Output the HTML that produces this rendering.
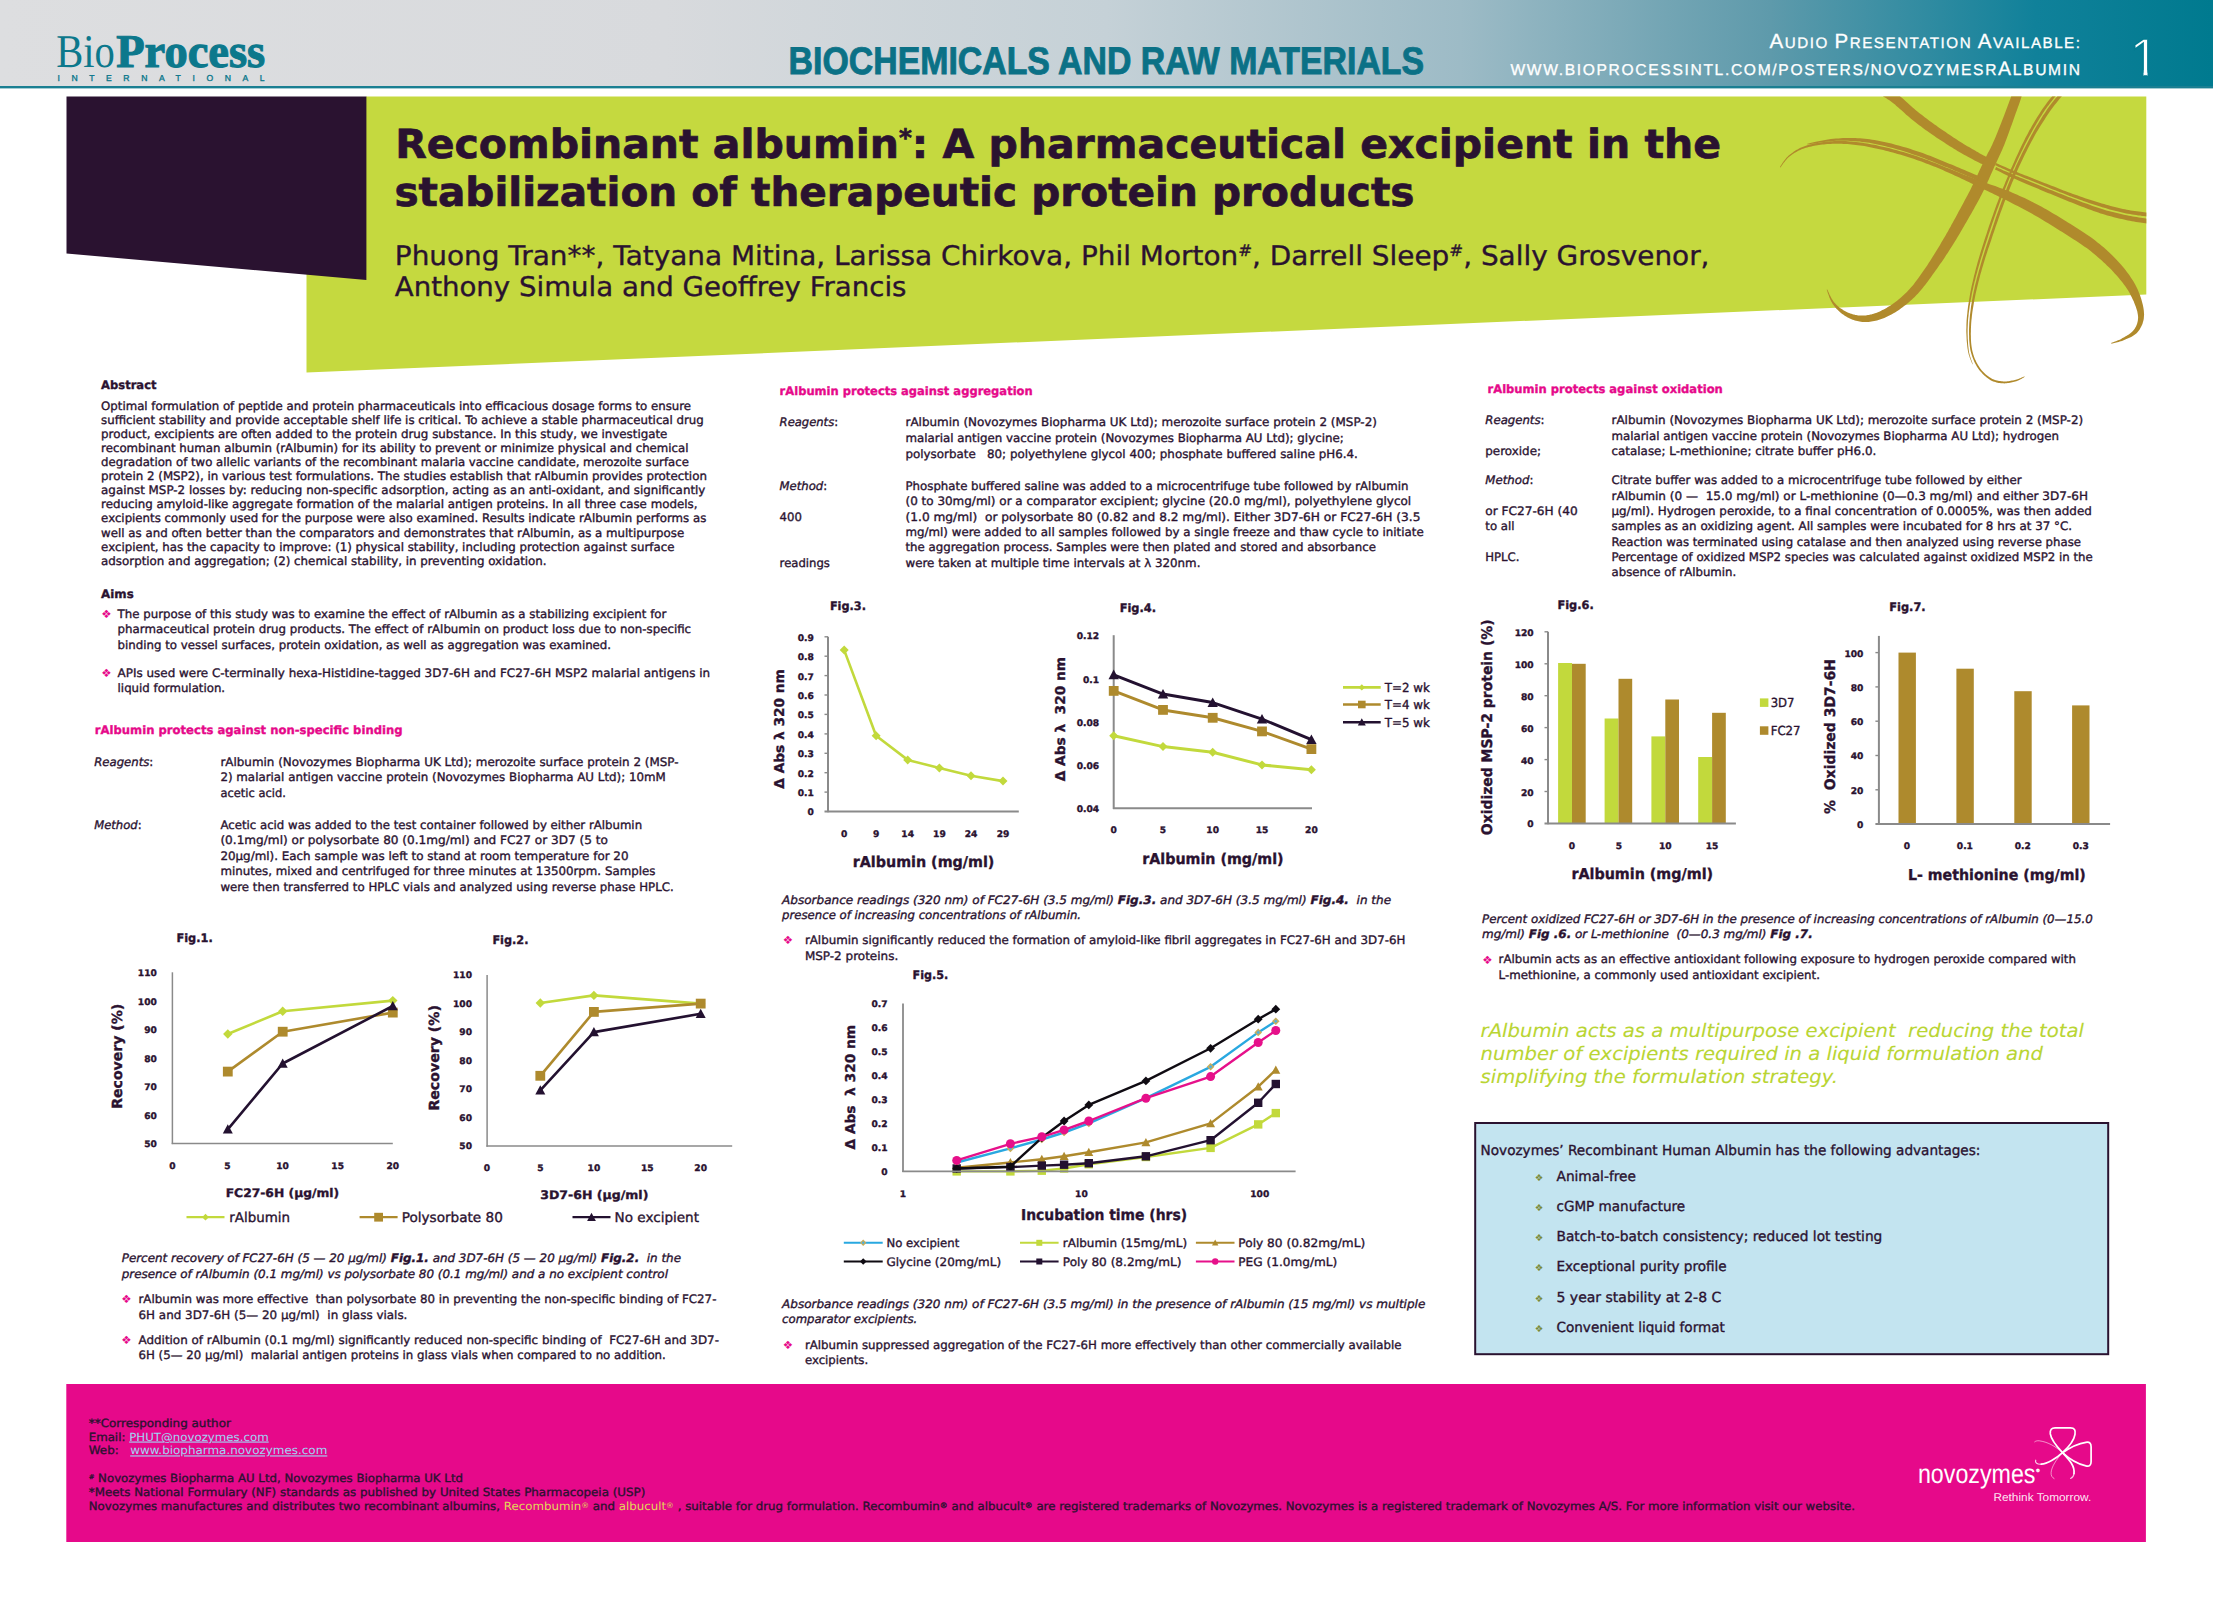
<!DOCTYPE html>
<html lang="en"><head><meta charset="utf-8"><title>Recombinant albumin poster</title>
<style>html,body{margin:0;padding:0;background:#fff}svg{display:block}text{white-space:pre;stroke:#2a1230;stroke-width:.35px}</style></head><body>
<svg width="2213" height="1622" viewBox="0 0 2213 1622" font-family='"DejaVu Sans", "Liberation Sans", sans-serif' font-size="11.7" fill="#2a1230" text-rendering="geometricPrecision">
<rect width="2213" height="1622" fill="#fff"/>
<defs><linearGradient id="hg" x1="0" y1="0" x2="2213" y2="0" gradientUnits="userSpaceOnUse"><stop offset="0" stop-color="#dddee0"/><stop offset="0.30" stop-color="#d8dadd"/><stop offset="0.50" stop-color="#c5d1d7"/><stop offset="0.66" stop-color="#9dbbc6"/><stop offset="0.80" stop-color="#5e9aab"/><stop offset="0.92" stop-color="#10819a"/><stop offset="1" stop-color="#007a8f"/></linearGradient></defs>
<rect x="0" y="0" width="2213" height="87" fill="url(#hg)"/>
<rect x="0" y="86" width="2213" height="2.4" fill="#1a7f92"/>
<text x="56.3" y="67.2" font-family='"Liberation Serif", serif' font-size="47" fill="#0c788c" style="stroke:none" textLength="58.6" lengthAdjust="spacingAndGlyphs">Bio</text>
<text x="116.2" y="67.2" font-family='"Liberation Serif", serif' font-size="47" font-weight="bold" fill="#0c788c" style="stroke:#0c788c;stroke-width:1.1px" textLength="149" lengthAdjust="spacingAndGlyphs">Process</text>
<text x="57.5" y="80.9" font-family='"Liberation Sans", sans-serif' font-size="8.6" fill="#0c788c" style="stroke:#0c788c;stroke-width:.35px" textLength="207" lengthAdjust="spacing">INTERNATIONAL</text>
<text x="788.6" y="74.1" font-size="38.50" font-weight="bold" fill="#0b7186" style="stroke:#0b7186;stroke-width:0.9px" font-family='"Liberation Sans", sans-serif' textLength="635.5" lengthAdjust="spacingAndGlyphs">BIOCHEMICALS AND RAW MATERIALS</text>
<text x="1769.6" y="47.6" font-family='"Liberation Sans", sans-serif' fill="#fff" style="stroke:#fff;stroke-width:.3px" textLength="310.4" lengthAdjust="spacing"><tspan font-size="20.5">A</tspan><tspan font-size="15.2">UDIO </tspan><tspan font-size="20.5">P</tspan><tspan font-size="15.2">RESENTATION </tspan><tspan font-size="20.5">A</tspan><tspan font-size="15.2">VAILABLE:</tspan></text>
<text x="1510.4" y="74.9" font-family='"Liberation Sans", sans-serif' fill="#fff" style="stroke:#fff;stroke-width:.3px" textLength="569.6" lengthAdjust="spacing"><tspan font-size="15.6">WWW.BIOPROCESSINTL.COM/POSTERS/NOVOZYMESR</tspan><tspan font-size="19.5">A</tspan><tspan font-size="15.6">LBUMIN</tspan></text>
<clipPath id="onec"><rect x="2130" y="30" width="17.9" height="40.5"/><rect x="2143.5" y="30" width="4.0" height="50"/></clipPath>
<text x="2129.6" y="75.6" clip-path="url(#onec)" font-family='"Liberation Sans", sans-serif' font-size="54" fill="#fff" style="stroke:#037b90;stroke-width:1.6px">1</text>
<path d="M366 96.6H2146.3V294.6L306.5 372.5V262H366Z" fill="#c5d93f"/>
<path d="M66.5 96.6H366.4V280L66.5 253.5Z" fill="#2a1230"/>
<text x="395.2" y="157.9" font-size="40.00" font-weight="bold" fill="#2a1230" style="stroke:#2a1230;stroke-width:0.7px" textLength="1325.8" lengthAdjust="spacingAndGlyphs">Recombinant albumin<tspan font-size="24" dy="-12">*</tspan><tspan dy="12">: A pharmaceutical excipient in the</tspan></text>
<text x="394.4" y="205.6" font-size="40.00" font-weight="bold" fill="#2a1230" style="stroke:#2a1230;stroke-width:0.7px" textLength="1020.1" lengthAdjust="spacingAndGlyphs">stabilization of therapeutic protein products</text>
<text x="394.8" y="265.1" font-size="27.00" fill="#2a1230" style="stroke:#2a1230" textLength="1314.7" lengthAdjust="spacingAndGlyphs">Phuong Tran**, Tatyana Mitina, Larissa Chirkova, Phil Morton<tspan font-size="16" dy="-9">#</tspan><tspan dy="9">, Darrell Sleep</tspan><tspan font-size="16" dy="-9">#</tspan><tspan dy="9">, Sally Grosvenor,</tspan></text>
<text x="394.8" y="296.1" font-size="27.00" fill="#2a1230" style="stroke:#2a1230" textLength="511.7" lengthAdjust="spacingAndGlyphs">Anthony Simula and Geoffrey Francis</text>
<clipPath id="swc"><rect x="1700" y="96.6" width="446.3" height="320"/></clipPath>
<g clip-path="url(#swc)">
<path d="M1879.3 94.1L1880.0 94.5L1880.8 95.0L1881.7 95.5L1882.7 96.1L1883.7 96.7L1884.9 97.4L1886.0 98.1L1887.2 98.9L1888.5 99.7L1889.8 100.5L1891.0 101.5L1892.3 102.4L1893.6 103.4L1895.0 104.6L1896.4 105.9L1898.0 107.2L1899.6 108.7L1901.2 110.1L1902.9 111.6L1904.5 113.1L1906.2 114.7L1907.9 116.1L1909.6 117.6L1911.3 119.0L1912.9 120.3L1914.5 121.5L1916.1 122.8L1917.6 124.0L1919.2 125.2L1920.8 126.3L1922.3 127.5L1923.9 128.7L1925.6 129.9L1927.2 131.1L1928.9 132.3L1930.7 133.5L1932.5 134.8L1934.4 136.0L1936.3 137.4L1938.3 138.7L1940.3 140.0L1942.3 141.3L1944.3 142.6L1946.3 143.9L1948.3 145.2L1950.2 146.4L1952.1 147.6L1953.9 148.7L1955.7 149.8L1957.5 150.9L1959.3 151.9L1961.1 153.0L1962.8 153.9L1964.5 154.9L1966.2 155.8L1967.8 156.7L1969.3 157.5L1970.7 158.3L1972.1 159.0L1973.4 159.7L1974.6 160.4L1975.7 161.0L1976.8 161.6L1977.9 162.1L1978.8 162.5L1979.7 163.0L1980.6 163.4L1981.3 163.7L1982.0 164.0L1982.6 164.3L1983.1 164.6L1983.6 164.8L1987.3 157.4L1986.8 157.2L1986.3 156.9L1985.7 156.6L1985.1 156.2L1984.3 155.8L1983.6 155.4L1982.7 155.0L1981.8 154.5L1980.9 154.0L1979.8 153.4L1978.8 152.8L1977.6 152.1L1976.4 151.4L1975.0 150.6L1973.6 149.8L1972.1 149.0L1970.6 148.1L1969.0 147.1L1967.3 146.2L1965.7 145.2L1964.0 144.2L1962.2 143.1L1960.5 142.0L1958.8 141.0L1957.1 139.8L1955.2 138.6L1953.4 137.4L1951.4 136.1L1949.5 134.8L1947.5 133.5L1945.6 132.1L1943.6 130.8L1941.7 129.5L1939.8 128.2L1938.0 126.9L1936.2 125.6L1934.5 124.4L1932.9 123.2L1931.2 122.0L1929.6 120.9L1928.1 119.7L1926.5 118.6L1925.0 117.5L1923.5 116.3L1922.0 115.1L1920.5 114.0L1918.9 112.7L1917.4 111.5L1915.8 110.2L1914.2 108.8L1912.6 107.4L1911.0 106.0L1909.3 104.5L1907.7 103.0L1906.0 101.5L1904.4 100.0L1902.8 98.6L1901.2 97.3L1899.7 96.0L1898.2 94.8L1896.7 93.7L1895.3 92.7L1893.8 91.7L1892.5 90.8L1891.1 89.9L1889.8 89.1L1888.6 88.4L1887.5 87.8L1886.6 87.2L1885.7 86.7L1885.0 86.3L1884.4 85.9Z" fill="#b08a2c"/>
<path d="M1995.1 165.2L1996.2 165.6L1997.4 166.2L1998.9 166.9L2000.5 167.6L2002.3 168.4L2004.3 169.3L2006.3 170.2L2008.4 171.2L2010.6 172.1L2012.7 173.1L2014.9 174.0L2017.0 174.9L2019.2 175.8L2021.4 176.7L2023.7 177.7L2026.1 178.7L2028.5 179.6L2030.9 180.6L2033.4 181.6L2035.9 182.6L2038.4 183.6L2040.8 184.6L2043.3 185.5L2045.7 186.5L2048.1 187.4L2050.4 188.4L2052.8 189.4L2055.2 190.3L2057.6 191.3L2060.0 192.2L2062.4 193.1L2064.8 194.1L2067.2 195.0L2069.6 195.9L2071.9 196.8L2074.3 197.7L2076.7 198.6L2079.2 199.4L2081.6 200.3L2084.0 201.2L2086.5 202.1L2088.9 202.9L2091.3 203.7L2093.7 204.5L2096.1 205.3L2098.5 206.1L2100.8 206.8L2103.0 207.5L2105.3 208.1L2107.5 208.8L2109.6 209.4L2111.8 210.0L2113.9 210.5L2116.0 211.0L2118.1 211.6L2120.1 212.0L2122.1 212.5L2124.1 212.9L2126.1 213.4L2128.0 213.8L2130.0 214.1L2132.0 214.5L2134.1 214.8L2136.2 215.1L2138.2 215.4L2140.2 215.6L2142.1 215.9L2143.9 216.1L2145.5 216.3L2146.9 216.5L2148.1 216.6L2149.1 216.7L2149.6 212.8L2148.6 212.7L2147.4 212.6L2145.9 212.4L2144.3 212.2L2142.5 212.0L2140.7 211.8L2138.7 211.6L2136.7 211.3L2134.7 211.1L2132.6 210.8L2130.6 210.4L2128.7 210.1L2126.8 209.7L2124.9 209.3L2122.9 208.9L2120.9 208.5L2118.9 208.0L2116.9 207.5L2114.8 207.0L2112.7 206.5L2110.6 205.9L2108.4 205.3L2106.2 204.7L2104.0 204.1L2101.8 203.5L2099.5 202.8L2097.1 202.1L2094.8 201.3L2092.4 200.6L2090.0 199.8L2087.5 199.0L2085.1 198.2L2082.6 197.3L2080.2 196.5L2077.8 195.6L2075.4 194.8L2073.0 193.9L2070.6 193.1L2068.2 192.2L2065.8 191.3L2063.5 190.4L2061.1 189.5L2058.7 188.5L2056.3 187.6L2053.9 186.6L2051.5 185.7L2049.1 184.8L2046.7 183.8L2044.3 182.9L2041.9 181.9L2039.4 181.0L2036.9 180.0L2034.4 179.0L2032.0 178.1L2029.5 177.1L2027.1 176.1L2024.7 175.2L2022.4 174.3L2020.2 173.4L2018.0 172.5L2015.9 171.6L2013.7 170.7L2011.6 169.8L2009.4 168.9L2007.3 168.0L2005.2 167.1L2003.3 166.3L2001.5 165.5L1999.8 164.8L1998.3 164.1L1997.0 163.6L1996.0 163.1Z" fill="#b08a2c"/>
<path d="M1995.0 169.5L1996.0 170.0L1997.3 170.6L1998.8 171.3L2000.4 172.1L2002.2 173.0L2004.1 173.9L2006.2 174.9L2008.3 175.9L2010.4 176.9L2012.6 177.9L2014.7 178.8L2016.9 179.8L2019.0 180.7L2021.3 181.7L2023.6 182.7L2025.9 183.7L2028.3 184.7L2030.8 185.7L2033.2 186.8L2035.7 187.8L2038.2 188.8L2040.7 189.9L2043.1 190.9L2045.5 191.9L2047.9 192.9L2050.3 193.8L2052.6 194.8L2055.0 195.8L2057.4 196.8L2059.8 197.8L2062.2 198.8L2064.6 199.7L2067.0 200.7L2069.3 201.7L2071.7 202.6L2074.1 203.6L2076.5 204.5L2078.9 205.4L2081.4 206.4L2083.8 207.3L2086.2 208.2L2088.7 209.2L2091.1 210.1L2093.5 210.9L2095.9 211.8L2098.2 212.6L2100.6 213.4L2102.8 214.1L2105.1 214.8L2107.3 215.5L2109.5 216.1L2111.6 216.6L2113.8 217.2L2115.9 217.7L2117.9 218.2L2120.0 218.7L2122.0 219.1L2124.0 219.6L2125.9 220.0L2127.9 220.4L2129.9 220.8L2131.9 221.2L2134.0 221.6L2136.0 221.9L2138.1 222.2L2140.1 222.5L2142.0 222.8L2143.7 223.1L2145.3 223.3L2146.8 223.5L2148.0 223.7L2149.0 223.9L2149.8 219.1L2148.8 218.9L2147.5 218.7L2146.1 218.5L2144.4 218.3L2142.7 218.0L2140.8 217.7L2138.8 217.4L2136.8 217.1L2134.8 216.8L2132.8 216.4L2130.8 216.0L2128.9 215.7L2126.9 215.3L2125.0 214.9L2123.0 214.4L2121.0 214.0L2119.0 213.6L2117.0 213.1L2114.9 212.6L2112.8 212.1L2110.7 211.5L2108.6 211.0L2106.4 210.4L2104.2 209.7L2102.0 209.0L2099.7 208.3L2097.4 207.5L2095.0 206.7L2092.6 205.9L2090.2 205.0L2087.8 204.1L2085.3 203.3L2082.9 202.4L2080.4 201.4L2078.0 200.5L2075.6 199.6L2073.2 198.8L2070.8 197.8L2068.4 196.9L2066.1 196.0L2063.7 195.1L2061.3 194.1L2058.9 193.2L2056.5 192.2L2054.1 191.3L2051.7 190.3L2049.3 189.4L2046.9 188.4L2044.5 187.4L2042.0 186.5L2039.6 185.5L2037.1 184.5L2034.6 183.5L2032.1 182.5L2029.7 181.5L2027.3 180.5L2024.9 179.5L2022.6 178.6L2020.3 177.7L2018.2 176.8L2016.0 175.9L2013.9 174.9L2011.7 174.0L2009.5 173.1L2007.4 172.1L2005.4 171.2L2003.4 170.4L2001.6 169.6L1999.9 168.8L1998.4 168.2L1997.2 167.6L1996.1 167.1Z" fill="#b08a2c"/>
<path d="M2013.1 88.9L2013.0 89.3L2012.9 89.8L2012.8 90.2L2012.7 90.6L2012.7 91.0L2012.6 91.5L2012.5 92.0L2012.3 92.6L2012.1 93.3L2011.9 94.1L2011.6 95.0L2011.3 96.1L2010.9 97.3L2010.4 98.7L2009.8 100.2L2009.2 101.8L2008.6 103.5L2007.9 105.3L2007.2 107.2L2006.5 109.1L2005.8 111.1L2005.0 113.0L2004.3 114.9L2003.5 116.9L2002.8 118.8L2002.0 120.8L2001.2 122.9L2000.4 125.0L1999.6 127.1L1998.7 129.2L1997.9 131.3L1997.0 133.4L1996.2 135.5L1995.4 137.5L1994.5 139.5L1993.7 141.3L1992.9 143.1L1992.1 144.9L1991.3 146.6L1990.5 148.2L1989.6 149.9L1988.8 151.5L1987.9 153.1L1987.1 154.8L1986.2 156.5L1985.3 158.3L1984.4 160.1L1983.5 162.0L1982.6 164.0L1981.6 166.0L1980.7 168.0L1979.7 170.1L1978.8 172.1L1977.8 174.2L1976.9 176.3L1975.9 178.4L1974.9 180.5L1973.9 182.6L1972.9 184.6L1971.9 186.6L1970.9 188.7L1969.9 190.7L1968.8 192.7L1967.8 194.7L1966.7 196.7L1965.6 198.8L1964.5 200.8L1963.4 202.9L1962.3 205.0L1961.2 207.1L1960.0 209.2L1958.8 211.3L1957.7 213.5L1956.5 215.7L1955.3 217.9L1954.1 220.1L1952.8 222.4L1951.6 224.6L1950.4 226.9L1949.1 229.1L1947.9 231.4L1946.6 233.6L1945.3 235.9L1944.0 238.1L1942.7 240.3L1941.3 242.6L1940.0 244.9L1938.6 247.2L1937.2 249.5L1935.8 251.7L1934.4 254.0L1933.0 256.3L1931.6 258.5L1930.2 260.7L1928.8 262.8L1927.5 264.9L1926.1 267.0L1924.7 269.1L1923.3 271.1L1921.9 273.1L1920.5 275.1L1919.1 277.1L1917.7 279.0L1916.3 280.8L1915.0 282.6L1913.6 284.4L1912.3 286.0L1910.9 287.6L1909.6 289.1L1908.2 290.5L1906.9 291.9L1905.5 293.3L1904.2 294.6L1902.8 295.8L1901.5 297.0L1900.1 298.2L1898.8 299.3L1897.4 300.4L1896.1 301.5L1894.7 302.5L1893.3 303.5L1892.0 304.5L1890.6 305.4L1889.2 306.3L1887.8 307.1L1886.5 307.9L1885.1 308.7L1883.8 309.4L1882.4 310.1L1881.1 310.8L1879.8 311.4L1878.5 311.9L1877.3 312.4L1876.1 312.9L1874.9 313.3L1873.7 313.7L1872.5 314.1L1871.3 314.4L1870.2 314.6L1869.0 314.9L1867.9 315.1L1866.8 315.2L1865.7 315.4L1864.6 315.5L1863.5 315.6L1862.4 315.6L1861.4 315.6L1860.3 315.6L1859.3 315.5L1858.2 315.4L1857.2 315.2L1856.2 315.1L1855.2 314.9L1854.1 314.6L1853.1 314.4L1852.1 314.1L1851.2 313.8L1850.2 313.5L1849.2 313.1L1848.2 312.7L1847.2 312.2L1846.2 311.7L1845.3 311.2L1844.3 310.7L1843.4 310.2L1842.5 309.6L1841.7 309.1L1840.8 308.5L1840.0 307.9L1839.3 307.4L1838.6 306.8L1837.9 306.2L1837.2 305.5L1836.6 304.9L1835.9 304.3L1835.3 303.6L1834.7 302.9L1834.1 302.2L1833.5 301.4L1833.0 300.7L1832.4 299.8L1831.9 298.9L1831.3 297.9L1830.7 296.8L1830.2 295.8L1829.6 294.7L1829.1 293.6L1828.7 292.6L1828.3 291.7L1827.9 290.8L1827.5 290.1L1827.3 289.6L1826.7 289.8L1827.0 290.4L1827.2 291.1L1827.5 292.0L1827.8 292.9L1828.2 294.0L1828.6 295.1L1829.0 296.3L1829.4 297.4L1829.9 298.6L1830.4 299.7L1830.9 300.7L1831.4 301.7L1831.9 302.5L1832.4 303.4L1832.9 304.2L1833.5 305.0L1834.0 305.8L1834.6 306.6L1835.3 307.4L1835.9 308.1L1836.6 308.9L1837.3 309.6L1838.0 310.3L1838.8 311.0L1839.6 311.7L1840.4 312.5L1841.3 313.2L1842.2 313.9L1843.2 314.6L1844.1 315.3L1845.1 315.9L1846.2 316.6L1847.2 317.2L1848.3 317.7L1849.3 318.3L1850.4 318.8L1851.5 319.2L1852.6 319.7L1853.7 320.0L1854.9 320.4L1856.0 320.8L1857.2 321.1L1858.4 321.3L1859.6 321.5L1860.9 321.7L1862.2 321.9L1863.5 321.9L1864.8 322.0L1866.1 322.0L1867.4 321.9L1868.7 321.9L1870.0 321.7L1871.4 321.6L1872.8 321.3L1874.2 321.1L1875.6 320.8L1877.0 320.4L1878.4 320.0L1879.9 319.6L1881.3 319.0L1882.8 318.5L1884.3 317.9L1885.8 317.2L1887.3 316.5L1888.8 315.8L1890.4 315.0L1891.9 314.2L1893.5 313.3L1895.0 312.4L1896.5 311.4L1898.1 310.4L1899.6 309.4L1901.1 308.3L1902.6 307.2L1904.1 306.1L1905.6 304.9L1907.1 303.7L1908.6 302.4L1910.2 301.1L1911.7 299.8L1913.2 298.3L1914.7 296.9L1916.2 295.3L1917.8 293.7L1919.3 292.0L1920.8 290.3L1922.3 288.5L1923.8 286.6L1925.3 284.7L1926.8 282.7L1928.3 280.7L1929.7 278.7L1931.2 276.7L1932.7 274.6L1934.2 272.6L1935.6 270.5L1937.1 268.4L1938.6 266.3L1940.1 264.1L1941.7 261.9L1943.2 259.7L1944.7 257.4L1946.2 255.1L1947.7 252.9L1949.2 250.6L1950.6 248.3L1952.1 246.1L1953.5 243.8L1954.9 241.6L1956.3 239.3L1957.6 237.1L1959.0 234.8L1960.3 232.6L1961.6 230.3L1962.9 228.1L1964.2 225.8L1965.5 223.6L1966.7 221.4L1968.0 219.2L1969.2 217.1L1970.4 215.0L1971.6 212.9L1972.8 210.8L1974.0 208.7L1975.1 206.6L1976.3 204.6L1977.4 202.5L1978.5 200.4L1979.6 198.4L1980.7 196.3L1981.8 194.2L1982.9 192.1L1983.9 190.0L1985.0 187.8L1986.0 185.7L1987.0 183.5L1987.9 181.3L1988.9 179.2L1989.8 177.1L1990.7 175.0L1991.6 172.9L1992.5 170.9L1993.4 168.9L1994.2 167.0L1995.1 165.2L1995.9 163.4L1996.7 161.7L1997.5 159.9L1998.3 158.2L1999.1 156.5L1999.9 154.8L2000.7 153.1L2001.5 151.3L2002.3 149.5L2003.1 147.6L2003.9 145.7L2004.7 143.7L2005.5 141.6L2006.3 139.5L2007.1 137.3L2007.9 135.2L2008.7 133.0L2009.5 130.8L2010.3 128.6L2011.0 126.5L2011.8 124.4L2012.5 122.4L2013.2 120.5L2013.9 118.5L2014.6 116.6L2015.3 114.6L2016.0 112.6L2016.7 110.7L2017.4 108.8L2018.0 107.0L2018.7 105.2L2019.3 103.5L2019.8 102.0L2020.3 100.5L2020.7 99.2L2021.1 98.0L2021.4 96.9L2021.7 95.9L2021.9 95.0L2022.1 94.2L2022.3 93.5L2022.4 92.9L2022.5 92.4L2022.6 91.9L2022.7 91.6L2022.7 91.3L2022.8 91.1Z" fill="#b08a2c"/>
<path d="M2060.1 92.8L2059.5 93.6L2058.7 94.5L2057.8 95.6L2056.8 96.9L2055.6 98.3L2054.4 99.8L2053.1 101.4L2051.8 103.0L2050.5 104.7L2049.2 106.5L2047.9 108.3L2046.7 110.0L2045.5 111.9L2044.3 113.7L2043.0 115.6L2041.8 117.6L2040.5 119.7L2039.2 121.8L2037.9 123.9L2036.6 126.1L2035.3 128.3L2034.0 130.5L2032.8 132.8L2031.5 135.1L2030.2 137.5L2028.9 139.9L2027.6 142.4L2026.3 144.9L2025.0 147.4L2023.7 150.0L2022.4 152.6L2021.1 155.2L2019.8 157.9L2018.6 160.5L2017.3 163.2L2016.1 165.8L2015.0 168.5L2013.8 171.1L2012.6 173.8L2011.5 176.5L2010.3 179.3L2009.2 182.0L2008.1 184.7L2007.0 187.5L2006.0 190.2L2004.9 193.0L2003.9 195.7L2002.8 198.4L2001.8 201.1L2000.8 203.8L1999.8 206.5L1998.9 209.2L1997.9 211.9L1997.0 214.6L1996.0 217.3L1995.1 220.0L1994.2 222.7L1993.3 225.5L1992.4 228.2L1991.4 231.0L1990.5 233.8L1989.5 236.7L1988.6 239.5L1987.6 242.5L1986.6 245.4L1985.7 248.3L1984.7 251.3L1983.8 254.2L1982.9 257.1L1982.0 259.9L1981.2 262.7L1980.4 265.5L1979.7 268.2L1978.9 270.8L1978.2 273.4L1977.5 276.0L1976.8 278.6L1976.2 281.2L1975.5 283.7L1974.9 286.2L1974.4 288.7L1973.8 291.2L1973.3 293.7L1972.8 296.2L1972.4 298.6L1971.9 301.1L1971.5 303.6L1971.1 306.1L1970.8 308.5L1970.5 310.9L1970.2 313.3L1969.9 315.7L1969.7 318.1L1969.5 320.4L1969.3 322.7L1969.2 325.0L1969.1 327.2L1969.0 329.5L1969.0 331.7L1969.0 333.9L1969.1 336.1L1969.1 338.2L1969.2 340.3L1969.4 342.4L1969.6 344.4L1969.8 346.3L1970.1 348.2L1970.4 350.1L1970.8 351.8L1971.3 353.5L1971.8 355.2L1972.3 356.8L1972.9 358.3L1973.5 359.8L1974.1 361.3L1974.8 362.7L1975.5 364.1L1976.3 365.4L1977.0 366.7L1977.8 367.9L1978.7 369.2L1979.6 370.4L1980.5 371.5L1981.5 372.6L1982.5 373.7L1983.5 374.7L1984.6 375.7L1985.6 376.6L1986.7 377.5L1987.8 378.3L1988.8 379.1L1989.9 379.8L1991.0 380.4L1992.1 380.9L1993.2 381.4L1994.3 381.8L1995.4 382.1L1996.5 382.4L1997.6 382.7L1998.7 382.9L1999.9 383.0L2001.0 383.2L2002.1 383.3L2003.2 383.3L2004.3 383.4L2005.4 383.3L2006.6 383.2L2007.7 383.1L2008.9 382.9L2010.0 382.8L2011.1 382.5L2012.2 382.3L2013.3 382.0L2014.3 381.7L2015.3 381.5L2016.2 381.2L2017.1 380.9L2018.0 380.5L2018.9 380.2L2019.7 379.7L2020.6 379.3L2021.3 378.9L2022.1 378.5L2022.7 378.1L2023.3 377.7L2023.9 377.4L2024.3 377.1L2024.7 376.9L2024.5 376.4L2024.1 376.6L2023.6 376.8L2023.0 377.0L2022.3 377.3L2021.6 377.6L2020.9 378.0L2020.1 378.3L2019.3 378.6L2018.4 378.9L2017.5 379.2L2016.7 379.5L2015.8 379.7L2014.9 379.9L2013.9 380.2L2012.9 380.4L2011.9 380.6L2010.8 380.8L2009.7 381.0L2008.6 381.2L2007.5 381.3L2006.4 381.4L2005.3 381.5L2004.3 381.5L2003.2 381.4L2002.2 381.3L2001.2 381.2L2000.1 381.1L1999.1 381.0L1998.0 380.8L1997.0 380.5L1995.9 380.3L1994.9 380.0L1993.9 379.6L1992.9 379.2L1991.9 378.7L1990.9 378.1L1989.9 377.5L1988.9 376.8L1987.8 376.0L1986.8 375.2L1985.8 374.4L1984.8 373.4L1983.8 372.5L1982.8 371.4L1981.8 370.4L1980.9 369.3L1980.1 368.2L1979.3 367.0L1978.5 365.8L1977.7 364.5L1977.0 363.3L1976.3 361.9L1975.7 360.6L1975.0 359.2L1974.4 357.7L1973.9 356.2L1973.4 354.7L1972.9 353.1L1972.5 351.4L1972.1 349.7L1971.8 347.9L1971.5 346.1L1971.3 344.2L1971.1 342.2L1971.0 340.2L1970.9 338.1L1970.9 336.0L1970.8 333.9L1970.9 331.7L1970.9 329.5L1971.0 327.3L1971.1 325.1L1971.2 322.9L1971.4 320.6L1971.7 318.3L1971.9 316.0L1972.2 313.6L1972.5 311.2L1972.9 308.8L1973.3 306.4L1973.7 304.0L1974.1 301.5L1974.6 299.1L1975.1 296.6L1975.6 294.1L1976.1 291.7L1976.7 289.2L1977.3 286.7L1977.9 284.3L1978.5 281.7L1979.2 279.2L1979.8 276.7L1980.5 274.1L1981.3 271.5L1982.0 268.8L1982.8 266.2L1983.6 263.4L1984.5 260.6L1985.3 257.8L1986.2 254.9L1987.2 252.0L1988.1 249.1L1989.1 246.2L1990.1 243.3L1991.1 240.4L1992.0 237.5L1993.0 234.6L1994.0 231.8L1994.9 229.1L1995.8 226.3L1996.8 223.6L1997.7 220.9L1998.6 218.2L1999.6 215.5L2000.5 212.8L2001.5 210.2L2002.5 207.5L2003.5 204.8L2004.5 202.1L2005.5 199.4L2006.5 196.7L2007.6 194.0L2008.7 191.3L2009.8 188.6L2010.9 185.8L2012.0 183.1L2013.1 180.4L2014.2 177.7L2015.4 175.0L2016.6 172.3L2017.7 169.7L2018.9 167.1L2020.1 164.4L2021.4 161.8L2022.6 159.2L2023.9 156.6L2025.1 153.9L2026.4 151.4L2027.7 148.8L2029.0 146.3L2030.3 143.8L2031.6 141.3L2032.9 138.9L2034.2 136.6L2035.4 134.3L2036.7 132.1L2038.0 129.9L2039.3 127.7L2040.7 125.6L2042.0 123.5L2043.3 121.4L2044.6 119.4L2045.8 117.5L2047.1 115.6L2048.3 113.8L2049.5 112.0L2050.7 110.3L2052.0 108.5L2053.3 106.8L2054.6 105.1L2055.9 103.5L2057.1 102.0L2058.3 100.5L2059.4 99.1L2060.5 97.8L2061.4 96.7L2062.2 95.7L2062.8 94.9Z" fill="#b08a2c"/>
<path d="M2054.7 93.0L2054.1 93.8L2053.3 94.8L2052.4 95.9L2051.4 97.2L2050.3 98.6L2049.1 100.0L2047.9 101.6L2046.6 103.3L2045.4 105.0L2044.1 106.7L2042.8 108.5L2041.6 110.3L2040.5 112.1L2039.3 113.9L2038.1 115.8L2036.8 117.8L2035.6 119.8L2034.3 121.9L2033.1 124.0L2031.8 126.2L2030.6 128.4L2029.3 130.6L2028.1 132.9L2026.9 135.2L2025.6 137.6L2024.4 140.0L2023.2 142.5L2021.9 145.0L2020.7 147.5L2019.5 150.1L2018.3 152.8L2017.0 155.4L2015.8 158.0L2014.6 160.7L2013.5 163.3L2012.3 166.0L2011.1 168.6L2010.0 171.3L2008.8 174.0L2007.7 176.7L2006.5 179.4L2005.4 182.1L2004.3 184.9L2003.2 187.6L2002.1 190.3L2001.0 193.1L1999.9 195.8L1998.9 198.5L1997.9 201.2L1996.8 203.9L1995.9 206.6L1994.9 209.3L1993.9 212.0L1993.0 214.7L1992.0 217.4L1991.1 220.1L1990.2 222.8L1989.2 225.5L1988.3 228.3L1987.4 231.0L1986.5 233.9L1985.5 236.7L1984.6 239.6L1983.7 242.5L1982.7 245.5L1981.8 248.4L1980.9 251.3L1980.0 254.2L1979.2 257.1L1978.3 260.0L1977.5 262.8L1976.8 265.5L1976.0 268.2L1975.3 270.9L1974.7 273.5L1974.0 276.1L1973.4 278.7L1972.8 281.2L1972.2 283.8L1971.6 286.3L1971.1 288.8L1970.6 291.3L1970.1 293.7L1969.7 296.2L1969.3 298.7L1968.9 301.2L1968.5 303.6L1968.1 306.1L1967.8 308.6L1967.5 311.0L1967.3 313.4L1967.0 315.8L1966.8 318.1L1966.6 320.5L1966.5 322.8L1966.4 325.0L1966.4 327.3L1966.3 329.5L1966.3 331.8L1966.4 334.0L1966.5 336.2L1966.6 338.4L1966.7 340.5L1966.9 342.6L1967.1 344.6L1967.3 346.5L1967.5 348.3L1967.8 350.0L1968.0 351.6L1968.4 353.1L1968.8 354.7L1969.3 356.1L1969.7 357.4L1970.2 358.7L1970.7 359.9L1971.1 361.0L1971.5 362.0L1971.9 362.9L1972.2 363.6L1972.4 364.3L1972.8 364.2L1972.6 363.5L1972.3 362.7L1972.0 361.8L1971.6 360.8L1971.2 359.7L1970.8 358.5L1970.4 357.2L1970.0 355.9L1969.6 354.4L1969.2 353.0L1968.9 351.4L1968.7 349.8L1968.5 348.1L1968.3 346.3L1968.1 344.5L1968.0 342.5L1967.9 340.4L1967.7 338.3L1967.7 336.2L1967.6 334.0L1967.6 331.8L1967.6 329.5L1967.7 327.3L1967.8 325.1L1967.9 322.8L1968.0 320.6L1968.2 318.3L1968.5 315.9L1968.7 313.6L1969.0 311.2L1969.4 308.8L1969.7 306.3L1970.1 303.9L1970.5 301.4L1970.9 299.0L1971.4 296.5L1971.8 294.1L1972.3 291.6L1972.9 289.2L1973.4 286.7L1974.0 284.2L1974.6 281.7L1975.3 279.2L1975.9 276.6L1976.6 274.0L1977.3 271.4L1978.0 268.8L1978.8 266.1L1979.6 263.4L1980.4 260.6L1981.2 257.7L1982.1 254.9L1983.0 252.0L1983.9 249.1L1984.9 246.1L1985.8 243.2L1986.8 240.3L1987.7 237.4L1988.6 234.6L1989.6 231.8L1990.5 229.0L1991.4 226.3L1992.3 223.5L1993.3 220.8L1994.2 218.1L1995.1 215.4L1996.1 212.7L1997.0 210.1L1998.0 207.4L1999.0 204.7L2000.0 202.0L2001.0 199.3L2002.1 196.6L2003.1 193.9L2004.2 191.2L2005.3 188.4L2006.4 185.7L2007.5 183.0L2008.6 180.3L2009.7 177.6L2010.9 174.9L2012.0 172.2L2013.2 169.5L2014.4 166.9L2015.6 164.3L2016.8 161.7L2018.0 159.0L2019.2 156.4L2020.5 153.8L2021.7 151.2L2023.0 148.7L2024.2 146.1L2025.5 143.6L2026.7 141.2L2028.0 138.8L2029.2 136.5L2030.5 134.2L2031.7 132.0L2032.9 129.7L2034.2 127.5L2035.4 125.4L2036.7 123.3L2037.9 121.2L2039.1 119.2L2040.3 117.3L2041.5 115.4L2042.7 113.5L2043.9 111.8L2045.0 110.0L2046.3 108.3L2047.5 106.6L2048.8 104.9L2050.0 103.3L2051.2 101.7L2052.4 100.2L2053.5 98.8L2054.5 97.6L2055.4 96.4L2056.2 95.5L2056.8 94.6Z" fill="#b08a2c"/>
<path d="M1807.4 144.5L1808.8 144.3L1810.5 144.0L1812.6 143.7L1814.9 143.4L1817.4 143.0L1820.0 142.6L1822.7 142.2L1825.5 141.8L1828.3 141.5L1831.0 141.2L1833.6 141.0L1836.1 140.8L1838.4 140.8L1840.8 140.7L1843.2 140.7L1845.6 140.7L1847.9 140.8L1850.3 140.9L1852.7 141.0L1855.0 141.2L1857.4 141.4L1859.7 141.6L1862.1 141.9L1864.5 142.2L1866.8 142.5L1869.2 142.8L1871.5 143.2L1873.9 143.7L1876.2 144.2L1878.6 144.7L1881.0 145.2L1883.3 145.7L1885.7 146.3L1888.1 146.9L1890.4 147.5L1892.8 148.1L1895.2 148.8L1897.6 149.4L1899.9 150.1L1902.3 150.8L1904.7 151.6L1907.0 152.3L1909.4 153.1L1911.8 153.9L1914.1 154.7L1916.5 155.5L1918.9 156.3L1921.3 157.2L1923.6 158.1L1926.0 158.9L1928.4 159.9L1930.8 160.8L1933.2 161.8L1935.6 162.7L1938.0 163.7L1940.3 164.7L1942.7 165.7L1945.1 166.7L1947.5 167.6L1949.8 168.6L1952.3 169.6L1954.8 170.7L1957.5 171.8L1960.1 172.9L1962.8 174.0L1965.5 175.2L1968.0 176.2L1970.4 177.2L1972.6 178.2L1974.5 179.0L1976.2 179.7L1977.5 180.3L1979.2 176.3L1977.9 175.7L1976.2 175.0L1974.2 174.2L1972.0 173.3L1969.7 172.3L1967.1 171.2L1964.5 170.1L1961.8 169.0L1959.1 167.8L1956.5 166.7L1953.9 165.6L1951.5 164.6L1949.1 163.7L1946.8 162.7L1944.4 161.7L1942.0 160.7L1939.6 159.7L1937.2 158.7L1934.8 157.8L1932.4 156.8L1930.0 155.8L1927.5 154.9L1925.1 154.0L1922.7 153.1L1920.3 152.3L1917.9 151.5L1915.5 150.7L1913.1 149.9L1910.7 149.1L1908.3 148.3L1905.9 147.6L1903.5 146.9L1901.1 146.2L1898.6 145.5L1896.2 144.9L1893.8 144.2L1891.4 143.6L1889.0 143.1L1886.6 142.5L1884.2 142.0L1881.8 141.4L1879.4 141.0L1877.0 140.5L1874.5 140.1L1872.1 139.7L1869.7 139.3L1867.3 139.0L1864.9 138.7L1862.4 138.5L1860.0 138.3L1857.6 138.2L1855.2 138.1L1852.8 138.0L1850.4 138.0L1848.0 138.0L1845.5 138.0L1843.1 138.1L1840.7 138.2L1838.3 138.4L1835.9 138.5L1833.4 138.8L1830.8 139.1L1828.0 139.6L1825.2 140.0L1822.5 140.6L1819.7 141.1L1817.1 141.6L1814.6 142.1L1812.4 142.6L1810.4 143.0L1808.6 143.4L1807.3 143.7Z" fill="#b08a2c"/>
<path d="M1780.5 167.4L1780.9 166.9L1781.3 166.3L1781.8 165.5L1782.4 164.7L1783.0 163.8L1783.7 162.8L1784.5 161.9L1785.2 160.9L1786.0 159.9L1786.9 159.0L1787.7 158.1L1788.6 157.3L1789.5 156.6L1790.5 155.8L1791.5 155.0L1792.5 154.3L1793.6 153.6L1794.7 152.8L1795.9 152.2L1797.1 151.5L1798.3 150.8L1799.5 150.2L1800.7 149.7L1802.0 149.1L1803.2 148.7L1804.5 148.2L1805.8 147.8L1807.2 147.4L1808.6 147.0L1810.0 146.7L1811.4 146.4L1812.9 146.1L1814.3 145.8L1815.9 145.5L1817.4 145.3L1819.0 145.0L1820.6 144.8L1822.2 144.6L1823.8 144.4L1825.5 144.3L1827.2 144.1L1828.9 144.0L1830.7 143.9L1832.4 143.8L1834.2 143.8L1836.1 143.7L1837.9 143.7L1839.8 143.8L1841.7 143.8L1843.6 143.9L1845.6 144.0L1847.6 144.1L1849.6 144.3L1851.6 144.5L1853.7 144.7L1855.8 144.9L1857.9 145.2L1860.0 145.5L1862.2 145.8L1864.4 146.1L1866.7 146.5L1868.9 147.0L1871.3 147.4L1873.6 147.9L1876.0 148.4L1878.4 148.9L1880.8 149.5L1883.3 150.1L1885.7 150.7L1888.1 151.3L1890.5 151.9L1892.9 152.5L1895.3 153.2L1897.6 153.9L1900.0 154.6L1902.4 155.3L1904.8 156.0L1907.1 156.7L1909.5 157.5L1911.9 158.3L1914.3 159.1L1916.6 159.9L1919.0 160.7L1921.4 161.6L1923.8 162.5L1926.1 163.4L1928.5 164.3L1930.9 165.2L1933.3 166.2L1935.6 167.1L1938.0 168.1L1940.4 169.1L1942.8 170.1L1945.1 171.2L1947.5 172.2L1949.9 173.2L1952.2 174.3L1954.6 175.4L1957.0 176.4L1959.3 177.6L1961.7 178.7L1964.0 179.8L1966.4 180.9L1968.7 182.1L1971.1 183.2L1973.4 184.3L1975.8 185.5L1978.1 186.6L1980.5 187.7L1982.8 188.9L1985.2 190.0L1987.5 191.1L1989.9 192.2L1992.2 193.3L1994.5 194.4L1996.8 195.5L1999.1 196.7L2001.4 197.8L2003.7 198.9L2006.0 200.1L2008.4 201.3L2010.7 202.5L2013.0 203.7L2015.4 204.9L2017.7 206.1L2020.0 207.3L2022.4 208.5L2024.7 209.7L2027.1 211.0L2029.4 212.3L2031.7 213.6L2034.1 214.9L2036.4 216.2L2038.7 217.6L2041.1 219.0L2043.5 220.4L2045.9 221.9L2048.2 223.3L2050.6 224.8L2053.0 226.2L2055.3 227.7L2057.7 229.2L2060.0 230.7L2062.3 232.1L2064.6 233.6L2066.9 235.1L2069.2 236.5L2071.5 238.0L2073.8 239.4L2076.0 240.8L2078.2 242.3L2080.4 243.7L2082.5 245.2L2084.6 246.7L2086.7 248.1L2088.7 249.6L2090.6 251.1L2092.6 252.7L2094.5 254.2L2096.3 255.8L2098.2 257.4L2100.0 259.0L2101.8 260.5L2103.5 262.2L2105.3 263.8L2106.9 265.4L2108.6 267.0L2110.2 268.5L2111.7 270.1L2113.2 271.8L2114.7 273.4L2116.2 275.0L2117.6 276.6L2119.0 278.3L2120.4 279.9L2121.7 281.5L2122.9 283.1L2124.1 284.7L2125.3 286.2L2126.3 287.8L2127.3 289.3L2128.3 290.8L2129.2 292.3L2130.0 293.8L2130.8 295.4L2131.6 296.9L2132.3 298.4L2133.0 299.9L2133.7 301.3L2134.2 302.8L2134.8 304.2L2135.3 305.5L2135.8 306.8L2136.2 308.1L2136.6 309.3L2137.0 310.5L2137.3 311.6L2137.5 312.7L2137.7 313.8L2137.9 314.9L2138.0 315.9L2138.1 316.9L2138.1 317.9L2138.0 318.9L2137.9 319.9L2137.8 321.0L2137.5 322.0L2137.3 323.0L2137.0 324.0L2136.6 325.0L2136.2 325.9L2135.7 326.9L2135.2 327.8L2134.7 328.7L2134.1 329.5L2133.5 330.3L2132.9 331.1L2132.1 331.8L2131.3 332.5L2130.4 333.3L2129.4 334.0L2128.4 334.7L2127.4 335.3L2126.3 336.0L2125.2 336.6L2124.2 337.2L2123.1 337.8L2122.1 338.3L2121.2 338.9L2120.2 339.4L2119.1 339.9L2118.0 340.3L2117.0 340.8L2115.9 341.2L2114.9 341.6L2113.9 342.0L2113.1 342.3L2112.3 342.6L2111.6 342.8L2111.1 343.1L2111.3 343.7L2111.8 343.6L2112.5 343.4L2113.3 343.2L2114.3 343.0L2115.3 342.8L2116.3 342.5L2117.5 342.2L2118.6 341.9L2119.8 341.6L2120.9 341.2L2122.0 340.9L2123.1 340.4L2124.2 340.0L2125.3 339.6L2126.4 339.1L2127.6 338.6L2128.8 338.1L2130.0 337.5L2131.2 336.9L2132.4 336.3L2133.5 335.6L2134.6 334.8L2135.6 334.0L2136.6 333.2L2137.5 332.2L2138.3 331.3L2139.1 330.3L2139.8 329.2L2140.4 328.1L2141.0 327.0L2141.6 325.8L2142.1 324.7L2142.6 323.4L2142.9 322.2L2143.3 321.0L2143.6 319.7L2143.8 318.4L2143.9 317.1L2144.0 315.8L2144.1 314.5L2144.0 313.2L2143.9 311.8L2143.8 310.5L2143.6 309.1L2143.4 307.7L2143.1 306.3L2142.8 304.8L2142.4 303.3L2142.0 301.8L2141.6 300.2L2141.1 298.6L2140.6 296.9L2140.0 295.2L2139.3 293.5L2138.6 291.8L2137.9 290.0L2137.1 288.2L2136.2 286.4L2135.2 284.6L2134.2 282.8L2133.2 281.0L2132.0 279.2L2130.8 277.4L2129.6 275.6L2128.3 273.8L2126.9 272.0L2125.5 270.1L2124.1 268.3L2122.6 266.5L2121.1 264.7L2119.5 262.9L2117.9 261.2L2116.3 259.4L2114.6 257.7L2112.9 255.9L2111.1 254.2L2109.3 252.4L2107.4 250.7L2105.5 249.0L2103.6 247.3L2101.6 245.7L2099.6 244.0L2097.5 242.4L2095.5 240.7L2093.3 239.1L2091.2 237.5L2089.0 236.0L2086.7 234.4L2084.5 232.9L2082.2 231.4L2079.9 229.9L2077.6 228.5L2075.2 227.0L2072.9 225.6L2070.6 224.1L2068.3 222.7L2066.0 221.2L2063.6 219.7L2061.2 218.3L2058.8 216.8L2056.4 215.3L2054.0 213.9L2051.5 212.4L2049.1 211.0L2046.6 209.6L2044.1 208.2L2041.7 206.8L2039.2 205.5L2036.8 204.2L2034.3 203.0L2031.9 201.7L2029.5 200.5L2027.0 199.3L2024.6 198.1L2022.1 197.0L2019.7 195.9L2017.3 194.8L2014.8 193.7L2012.4 192.7L2009.9 191.6L2007.4 190.6L2005.0 189.7L2002.5 188.7L2000.0 187.9L1997.6 187.0L1995.1 186.1L1992.7 185.3L1990.2 184.5L1987.8 183.6L1985.3 182.8L1982.9 181.9L1980.5 181.0L1978.1 180.1L1975.7 179.2L1973.2 178.2L1970.8 177.3L1968.4 176.3L1966.0 175.4L1963.5 174.4L1961.1 173.4L1958.7 172.5L1956.3 171.5L1953.8 170.5L1951.4 169.6L1949.0 168.6L1946.6 167.7L1944.2 166.7L1941.8 165.7L1939.4 164.8L1937.0 163.8L1934.6 162.8L1932.2 161.9L1929.8 161.0L1927.4 160.0L1925.0 159.2L1922.6 158.3L1920.2 157.5L1917.8 156.6L1915.4 155.8L1913.0 155.0L1910.6 154.3L1908.2 153.5L1905.8 152.8L1903.4 152.1L1901.0 151.4L1898.5 150.7L1896.1 150.0L1893.7 149.4L1891.3 148.8L1888.9 148.1L1886.4 147.5L1884.0 147.0L1881.5 146.4L1879.1 145.9L1876.7 145.3L1874.2 144.8L1871.8 144.4L1869.5 143.9L1867.2 143.5L1864.9 143.2L1862.7 142.8L1860.5 142.5L1858.3 142.2L1856.1 142.0L1854.0 141.8L1851.9 141.6L1849.8 141.4L1847.8 141.2L1845.7 141.1L1843.7 141.1L1841.8 141.0L1839.8 141.0L1837.9 141.0L1836.0 141.0L1834.2 141.1L1832.3 141.2L1830.5 141.3L1828.7 141.4L1827.0 141.6L1825.2 141.8L1823.5 142.0L1821.9 142.2L1820.2 142.5L1818.6 142.7L1817.0 143.0L1815.5 143.3L1813.9 143.6L1812.4 143.9L1810.9 144.3L1809.5 144.6L1808.0 145.0L1806.6 145.4L1805.2 145.9L1803.9 146.4L1802.5 146.9L1801.2 147.4L1799.9 148.0L1798.7 148.7L1797.5 149.4L1796.2 150.1L1795.1 150.8L1793.9 151.6L1792.8 152.4L1791.7 153.2L1790.7 154.0L1789.7 154.8L1788.7 155.6L1787.8 156.5L1786.9 157.3L1786.1 158.3L1785.3 159.3L1784.5 160.3L1783.7 161.3L1783.0 162.3L1782.3 163.3L1781.7 164.2L1781.2 165.1L1780.7 165.8L1780.3 166.5L1779.9 167.0Z" fill="#b08a2c"/>
</g>
<text x="101.1" y="389.1" font-weight="bold" textLength="55.4" lengthAdjust="spacingAndGlyphs">Abstract</text>
<text x="101.1" y="409.7" textLength="590.0" lengthAdjust="spacingAndGlyphs">Optimal formulation of peptide and protein pharmaceuticals into efficacious dosage forms to ensure</text>
<text x="101.1" y="423.8" textLength="602.7" lengthAdjust="spacingAndGlyphs">sufficient stability and provide acceptable shelf life is critical. To achieve a stable pharmaceutical drug</text>
<text x="101.1" y="437.9" textLength="566.3" lengthAdjust="spacingAndGlyphs">product, excipients are often added to the protein drug substance. In this study, we investigate</text>
<text x="101.1" y="452.0" textLength="587.5" lengthAdjust="spacingAndGlyphs">recombinant human albumin (rAlbumin) for its ability to prevent or minimize physical and chemical</text>
<text x="101.1" y="466.1" textLength="587.8" lengthAdjust="spacingAndGlyphs">degradation of two allelic variants of the recombinant malaria vaccine candidate, merozoite surface</text>
<text x="101.1" y="480.1" textLength="605.8" lengthAdjust="spacingAndGlyphs">protein 2 (MSP2), in various test formulations. The studies establish that rAlbumin provides protection</text>
<text x="101.1" y="494.2" textLength="604.3" lengthAdjust="spacingAndGlyphs">against MSP-2 losses by: reducing non-specific adsorption, acting as an anti-oxidant, and significantly</text>
<text x="101.1" y="508.3" textLength="596.3" lengthAdjust="spacingAndGlyphs">reducing amyloid-like aggregate formation of the malarial antigen proteins. In all three case models,</text>
<text x="101.1" y="522.4" textLength="605.2" lengthAdjust="spacingAndGlyphs">excipients commonly used for the purpose were also examined. Results indicate rAlbumin performs as</text>
<text x="101.1" y="536.5" textLength="583.1" lengthAdjust="spacingAndGlyphs">well as and often better than the comparators and demonstrates that rAlbumin, as a multipurpose</text>
<text x="101.1" y="550.6" textLength="573.3" lengthAdjust="spacingAndGlyphs">excipient, has the capacity to improve: (1) physical stability, including protection against surface</text>
<text x="101.1" y="564.7" textLength="445.5" lengthAdjust="spacingAndGlyphs">adsorption and aggregation; (2) chemical stability, in preventing oxidation.</text>
<text x="101.1" y="597.9" font-weight="bold" textLength="32.6" lengthAdjust="spacingAndGlyphs">Aims</text>
<text x="106.4" y="617.5" font-size="11.5" fill="#e6098a" style="stroke:none" text-anchor="middle">❖</text>
<text x="117.6" y="618.1" textLength="548.8" lengthAdjust="spacingAndGlyphs">The purpose of this study was to examine the effect of rAlbumin as a stabilizing excipient for</text>
<text x="117.6" y="633.3" textLength="573.5" lengthAdjust="spacingAndGlyphs">pharmaceutical protein drug products. The effect of rAlbumin on product loss due to non-specific</text>
<text x="117.6" y="648.8" textLength="493.5" lengthAdjust="spacingAndGlyphs">binding to vessel surfaces, protein oxidation, as well as aggregation was examined.</text>
<text x="106.4" y="677.1" font-size="11.5" fill="#e6098a" style="stroke:none" text-anchor="middle">❖</text>
<text x="117.6" y="677.3" textLength="592.5" lengthAdjust="spacingAndGlyphs">APIs used were C-terminally hexa-Histidine-tagged 3D7-6H and FC27-6H MSP2 malarial antigens in</text>
<text x="117.6" y="692.2" textLength="107.5" lengthAdjust="spacingAndGlyphs">liquid formulation.</text>
<text x="94.8" y="734.2" font-weight="bold" fill="#e6098a" style="stroke:#e6098a" textLength="307.8" lengthAdjust="spacingAndGlyphs">rAlbumin protects against non-specific binding</text>
<text x="94.2" y="765.8" textLength="59.1" lengthAdjust="spacingAndGlyphs"><tspan font-style="italic">Reagents</tspan>:</text>
<text x="220.4" y="765.8" textLength="458.1" lengthAdjust="spacingAndGlyphs">rAlbumin (Novozymes Biopharma UK Ltd); merozoite surface protein 2 (MSP-</text>
<text x="220.4" y="781.0" textLength="445.4" lengthAdjust="spacingAndGlyphs">2) malarial antigen vaccine protein (Novozymes Biopharma AU Ltd); 10mM</text>
<text x="220.4" y="796.5" textLength="65.5" lengthAdjust="spacingAndGlyphs">acetic acid.</text>
<text x="94.2" y="828.8" textLength="47.4" lengthAdjust="spacingAndGlyphs"><tspan font-style="italic">Method</tspan>:</text>
<text x="220.4" y="828.8" textLength="421.7" lengthAdjust="spacingAndGlyphs">Acetic acid was added to the test container followed by either rAlbumin</text>
<text x="220.4" y="843.9" textLength="387.5" lengthAdjust="spacingAndGlyphs">(0.1mg/ml) or polysorbate 80 (0.1mg/ml) and FC27 or 3D7 (5 to</text>
<text x="220.4" y="859.6" textLength="408.1" lengthAdjust="spacingAndGlyphs">20µg/ml). Each sample was left to stand at room temperature for 20</text>
<text x="220.4" y="874.9" textLength="435.0" lengthAdjust="spacingAndGlyphs">minutes, mixed and centrifuged for three minutes at 13500rpm. Samples</text>
<text x="220.4" y="890.6" textLength="453.3" lengthAdjust="spacingAndGlyphs">were then transferred to HPLC vials and analyzed using reverse phase HPLC.</text>
<text x="121.7" y="1261.6" font-style="italic" textLength="559.3" lengthAdjust="spacingAndGlyphs" xml:space="preserve">Percent recovery of FC27-6H (5 — 20 µg/ml) <tspan font-weight="bold">Fig.1.</tspan> and 3D7-6H (5 — 20 µg/ml) <tspan font-weight="bold">Fig.2.</tspan>  in the</text>
<text x="121.7" y="1277.5" font-style="italic" textLength="546.3" lengthAdjust="spacingAndGlyphs">presence of rAlbumin (0.1 mg/ml) vs polysorbate 80 (0.1 mg/ml) and a no excipient control</text>
<text x="126.4" y="1302.5" font-size="11.5" fill="#e6098a" style="stroke:none" text-anchor="middle">❖</text>
<text x="138.5" y="1302.8" textLength="577.9" lengthAdjust="spacingAndGlyphs" xml:space="preserve">rAlbumin was more effective  than polysorbate 80 in preventing the non-specific binding of FC27-</text>
<text x="138.5" y="1318.9" textLength="268.9" lengthAdjust="spacingAndGlyphs" xml:space="preserve">6H and 3D7-6H (5— 20 µg/ml)  in glass vials.</text>
<text x="126.4" y="1343.7" font-size="11.5" fill="#e6098a" style="stroke:none" text-anchor="middle">❖</text>
<text x="138.5" y="1343.9" textLength="580.5" lengthAdjust="spacingAndGlyphs" xml:space="preserve">Addition of rAlbumin (0.1 mg/ml) significantly reduced non-specific binding of  FC27-6H and 3D7-</text>
<text x="138.5" y="1359.1" textLength="527.3" lengthAdjust="spacingAndGlyphs" xml:space="preserve">6H (5— 20 µg/ml)  malarial antigen proteins in glass vials when compared to no addition.</text>
<text x="176.4" y="941.6" font-weight="bold" textLength="36.4" lengthAdjust="spacingAndGlyphs">Fig.1.</text>
<text x="492.4" y="943.9" font-weight="bold" textLength="36.1" lengthAdjust="spacingAndGlyphs">Fig.2.</text>
<path d="M172.4 972.3L172.4 1144.1" stroke="#8a8a8a" stroke-width="1.50" fill="none"/>
<path d="M171.7 1143.4L392.8 1143.4" stroke="#8a8a8a" stroke-width="1.50" fill="none"/>
<text x="156.8" y="976.2" font-size="9.10" font-weight="bold" text-anchor="end">110</text>
<text x="156.8" y="1004.7" font-size="9.10" font-weight="bold" text-anchor="end">100</text>
<text x="156.8" y="1033.3" font-size="9.10" font-weight="bold" text-anchor="end">90</text>
<text x="156.8" y="1061.8" font-size="9.10" font-weight="bold" text-anchor="end">80</text>
<text x="156.8" y="1090.3" font-size="9.10" font-weight="bold" text-anchor="end">70</text>
<text x="156.8" y="1118.8" font-size="9.10" font-weight="bold" text-anchor="end">60</text>
<text x="156.8" y="1147.3" font-size="9.10" font-weight="bold" text-anchor="end">50</text>
<text x="172.4" y="1169.3" font-size="9.10" font-weight="bold" text-anchor="middle">0</text>
<text x="227.5" y="1169.3" font-size="9.10" font-weight="bold" text-anchor="middle">5</text>
<text x="282.6" y="1169.3" font-size="9.10" font-weight="bold" text-anchor="middle">10</text>
<text x="337.7" y="1169.3" font-size="9.10" font-weight="bold" text-anchor="middle">15</text>
<text x="392.8" y="1169.3" font-size="9.10" font-weight="bold" text-anchor="middle">20</text>
<path d="M227.8 1034.0L282.7 1011.3L392.8 1000.6" stroke="#c2d93c" stroke-width="2.60" fill="none" stroke-linejoin="round"/>
<path d="M227.8 1029.3L232.5 1034.0L227.8 1038.7L223.1 1034.0Z" fill="#c2d93c"/>
<path d="M282.7 1006.6L287.4 1011.3L282.7 1016.0L278.0 1011.3Z" fill="#c2d93c"/>
<path d="M392.8 995.9L397.5 1000.6L392.8 1005.3L388.1 1000.6Z" fill="#c2d93c"/>
<path d="M227.8 1071.6L282.7 1031.7L392.8 1012.6" stroke="#ae8a2d" stroke-width="2.60" fill="none" stroke-linejoin="round"/>
<rect x="222.9" y="1066.7" width="9.8" height="9.8" fill="#ae8a2d"/>
<rect x="277.8" y="1026.8" width="9.8" height="9.8" fill="#ae8a2d"/>
<rect x="387.9" y="1007.7" width="9.8" height="9.8" fill="#ae8a2d"/>
<path d="M227.8 1129.3L282.7 1063.5L392.8 1006.0" stroke="#231130" stroke-width="2.60" fill="none" stroke-linejoin="round"/>
<path d="M227.8 1124.3L232.8 1133.5L222.8 1133.5Z" fill="#231130"/>
<path d="M282.7 1058.5L287.7 1067.8L277.7 1067.8Z" fill="#231130"/>
<path d="M392.8 1001.0L397.8 1010.2L387.8 1010.2Z" fill="#231130"/>
<text transform="translate(117.0 1056.2) rotate(-90)" x="-52.6" y="5.0" font-size="14.0" font-weight="bold" textLength="105.1" lengthAdjust="spacingAndGlyphs" xml:space="preserve">Recovery (%)</text>
<text x="225.7" y="1196.7" font-size="11.80" font-weight="bold" textLength="113.5" lengthAdjust="spacingAndGlyphs">FC27-6H (µg/ml)</text>
<path d="M487.1 974.9L487.1 1146.7" stroke="#8a8a8a" stroke-width="1.50" fill="none"/>
<path d="M486.4 1146.0L732.2 1146.0" stroke="#8a8a8a" stroke-width="1.50" fill="none"/>
<text x="472.0" y="978.0" font-size="9.10" font-weight="bold" text-anchor="end">110</text>
<text x="472.0" y="1006.5" font-size="9.10" font-weight="bold" text-anchor="end">100</text>
<text x="472.0" y="1035.1" font-size="9.10" font-weight="bold" text-anchor="end">90</text>
<text x="472.0" y="1063.6" font-size="9.10" font-weight="bold" text-anchor="end">80</text>
<text x="472.0" y="1092.1" font-size="9.10" font-weight="bold" text-anchor="end">70</text>
<text x="472.0" y="1120.6" font-size="9.10" font-weight="bold" text-anchor="end">60</text>
<text x="472.0" y="1149.1" font-size="9.10" font-weight="bold" text-anchor="end">50</text>
<text x="486.8" y="1170.8" font-size="9.10" font-weight="bold" text-anchor="middle">0</text>
<text x="540.3" y="1170.8" font-size="9.10" font-weight="bold" text-anchor="middle">5</text>
<text x="593.9" y="1170.8" font-size="9.10" font-weight="bold" text-anchor="middle">10</text>
<text x="647.3" y="1170.8" font-size="9.10" font-weight="bold" text-anchor="middle">15</text>
<text x="700.7" y="1170.8" font-size="9.10" font-weight="bold" text-anchor="middle">20</text>
<path d="M540.3 1003.0L593.9 995.4L700.7 1003.6" stroke="#c2d93c" stroke-width="2.60" fill="none" stroke-linejoin="round"/>
<path d="M540.3 998.3L545.0 1003.0L540.3 1007.7L535.6 1003.0Z" fill="#c2d93c"/>
<path d="M593.9 990.7L598.6 995.4L593.9 1000.1L589.2 995.4Z" fill="#c2d93c"/>
<path d="M700.7 998.9L705.4 1003.6L700.7 1008.3L696.0 1003.6Z" fill="#c2d93c"/>
<path d="M540.3 1075.8L593.9 1011.9L700.7 1003.6" stroke="#ae8a2d" stroke-width="2.60" fill="none" stroke-linejoin="round"/>
<rect x="535.4" y="1070.9" width="9.8" height="9.8" fill="#ae8a2d"/>
<rect x="589.0" y="1007.0" width="9.8" height="9.8" fill="#ae8a2d"/>
<rect x="695.8" y="998.7" width="9.8" height="9.8" fill="#ae8a2d"/>
<path d="M540.3 1090.3L593.9 1032.1L700.7 1013.8" stroke="#231130" stroke-width="2.60" fill="none" stroke-linejoin="round"/>
<path d="M540.3 1085.3L545.3 1094.5L535.3 1094.5Z" fill="#231130"/>
<path d="M593.9 1027.1L598.9 1036.3L588.9 1036.3Z" fill="#231130"/>
<path d="M700.7 1008.8L705.7 1018.0L695.7 1018.0Z" fill="#231130"/>
<text transform="translate(434.0 1057.8) rotate(-90)" x="-52.8" y="5.0" font-size="14.0" font-weight="bold" textLength="105.5" lengthAdjust="spacingAndGlyphs" xml:space="preserve">Recovery (%)</text>
<text x="540.2" y="1198.8" font-size="11.80" font-weight="bold" textLength="108.2" lengthAdjust="spacingAndGlyphs">3D7-6H (µg/ml)</text>
<path d="M186.5 1217.2L224.5 1217.2" stroke="#c2d93c" stroke-width="2.20" fill="none"/>
<path d="M205.5 1213.8L208.9 1217.2L205.5 1220.6L202.1 1217.2Z" fill="#c2d93c"/>
<text x="229.2" y="1222.1" font-size="13.50" textLength="60.8" lengthAdjust="spacingAndGlyphs">rAlbumin</text>
<path d="M359.6 1217.2L397.6 1217.2" stroke="#ae8a2d" stroke-width="2.20" fill="none"/>
<rect x="374.2" y="1212.8" width="8.8" height="8.8" fill="#ae8a2d"/>
<text x="401.7" y="1222.1" font-size="13.50" textLength="101.2" lengthAdjust="spacingAndGlyphs">Polysorbate 80</text>
<path d="M572.5 1217.2L610.5 1217.2" stroke="#231130" stroke-width="2.20" fill="none"/>
<path d="M591.5 1212.8L595.9 1220.9L587.1 1220.9Z" fill="#231130"/>
<text x="614.6" y="1222.1" font-size="13.50" textLength="84.4" lengthAdjust="spacingAndGlyphs">No excipient</text>
<text x="779.6" y="395.3" font-weight="bold" fill="#e6098a" style="stroke:#e6098a" textLength="253.1" lengthAdjust="spacingAndGlyphs">rAlbumin protects against aggregation</text>
<text x="779.6" y="426.3" textLength="58.5" lengthAdjust="spacingAndGlyphs"><tspan font-style="italic">Reagents</tspan>:</text>
<text x="905.5" y="426.3" textLength="471.4" lengthAdjust="spacingAndGlyphs">rAlbumin (Novozymes Biopharma UK Ltd); merozoite surface protein 2 (MSP-2)</text>
<text x="905.5" y="442.2" textLength="438.2" lengthAdjust="spacingAndGlyphs">malarial antigen vaccine protein (Novozymes Biopharma AU Ltd); glycine;</text>
<text x="905.5" y="457.6" textLength="452.4" lengthAdjust="spacingAndGlyphs" xml:space="preserve">polysorbate   80; polyethylene glycol 400; phosphate buffered saline pH6.4.</text>
<text x="779.6" y="489.6" textLength="47.5" lengthAdjust="spacingAndGlyphs"><tspan font-style="italic">Method</tspan>:</text>
<text x="905.5" y="489.6" textLength="503.0" lengthAdjust="spacingAndGlyphs">Phosphate buffered saline was added to a microcentrifuge tube followed by rAlbumin</text>
<text x="905.5" y="505.4" textLength="505.6" lengthAdjust="spacingAndGlyphs">(0 to 30mg/ml) or a comparator excipient; glycine (20.0 mg/ml), polyethylene glycol</text>
<text x="779.6" y="520.5">400</text>
<text x="905.5" y="520.5" textLength="515.0" lengthAdjust="spacingAndGlyphs" xml:space="preserve">(1.0 mg/ml)  or polysorbate 80 (0.82 and 8.2 mg/ml). Either 3D7-6H or FC27-6H (3.5</text>
<text x="905.5" y="536.2" textLength="518.2" lengthAdjust="spacingAndGlyphs">mg/ml) were added to all samples followed by a single freeze and thaw cycle to initiate</text>
<text x="905.5" y="551.3" textLength="470.4" lengthAdjust="spacingAndGlyphs">the aggregation process. Samples were then plated and stored and absorbance</text>
<text x="779.6" y="566.8" textLength="50.3" lengthAdjust="spacingAndGlyphs">readings</text>
<text x="905.5" y="566.8" textLength="294.9" lengthAdjust="spacingAndGlyphs">were taken at multiple time intervals at λ 320nm.</text>
<text x="782.1" y="903.7" font-style="italic" textLength="609.0" lengthAdjust="spacingAndGlyphs" xml:space="preserve">Absorbance readings (320 nm) of FC27-6H (3.5 mg/ml) <tspan font-weight="bold">Fig.3.</tspan> and 3D7-6H (3.5 mg/ml) <tspan font-weight="bold">Fig.4.</tspan>  in the</text>
<text x="782.1" y="918.6" font-style="italic" textLength="299.0" lengthAdjust="spacingAndGlyphs">presence of increasing concentrations of rAlbumin.</text>
<text x="787.8" y="943.7" font-size="11.5" fill="#e6098a" style="stroke:none" text-anchor="middle">❖</text>
<text x="804.9" y="943.9" textLength="600.5" lengthAdjust="spacingAndGlyphs">rAlbumin significantly reduced the formation of amyloid-like fibril aggregates in FC27-6H and 3D7-6H</text>
<text x="804.9" y="959.6" textLength="93.3" lengthAdjust="spacingAndGlyphs">MSP-2 proteins.</text>
<text x="782.1" y="1307.6" font-style="italic" textLength="643.2" lengthAdjust="spacingAndGlyphs">Absorbance readings (320 nm) of FC27-6H (3.5 mg/ml) in the presence of rAlbumin (15 mg/ml) vs multiple</text>
<text x="782.1" y="1323.4" font-style="italic" textLength="135.1" lengthAdjust="spacingAndGlyphs">comparator excipients.</text>
<text x="787.8" y="1348.7" font-size="11.5" fill="#e6098a" style="stroke:none" text-anchor="middle">❖</text>
<text x="804.9" y="1348.7" textLength="596.7" lengthAdjust="spacingAndGlyphs">rAlbumin suppressed aggregation of the FC27-6H more effectively than other commercially available</text>
<text x="804.9" y="1363.6" textLength="63.3" lengthAdjust="spacingAndGlyphs">excipients.</text>
<text x="829.9" y="609.6" font-weight="bold" textLength="36.1" lengthAdjust="spacingAndGlyphs">Fig.3.</text>
<text x="1119.7" y="612.1" font-weight="bold" textLength="36.4" lengthAdjust="spacingAndGlyphs">Fig.4.</text>
<path d="M828.0 636.8L828.0 812.2" stroke="#8a8a8a" stroke-width="2.00" fill="none"/>
<path d="M824.5 811.5L1018.8 811.5" stroke="#8a8a8a" stroke-width="2.00" fill="none"/>
<path d="M824.5 636.8L828.0 636.8" stroke="#8a8a8a" stroke-width="1.40" fill="none"/>
<text x="813.8" y="640.7" font-size="9.10" font-weight="bold" text-anchor="end">0.9</text>
<path d="M824.5 656.2L828.0 656.2" stroke="#8a8a8a" stroke-width="1.40" fill="none"/>
<text x="813.8" y="660.1" font-size="9.10" font-weight="bold" text-anchor="end">0.8</text>
<path d="M824.5 675.6L828.0 675.6" stroke="#8a8a8a" stroke-width="1.40" fill="none"/>
<text x="813.8" y="679.5" font-size="9.10" font-weight="bold" text-anchor="end">0.7</text>
<path d="M824.5 695.0L828.0 695.0" stroke="#8a8a8a" stroke-width="1.40" fill="none"/>
<text x="813.8" y="699.0" font-size="9.10" font-weight="bold" text-anchor="end">0.6</text>
<path d="M824.5 714.4L828.0 714.4" stroke="#8a8a8a" stroke-width="1.40" fill="none"/>
<text x="813.8" y="718.4" font-size="9.10" font-weight="bold" text-anchor="end">0.5</text>
<path d="M824.5 733.9L828.0 733.9" stroke="#8a8a8a" stroke-width="1.40" fill="none"/>
<text x="813.8" y="737.8" font-size="9.10" font-weight="bold" text-anchor="end">0.4</text>
<path d="M824.5 753.3L828.0 753.3" stroke="#8a8a8a" stroke-width="1.40" fill="none"/>
<text x="813.8" y="757.2" font-size="9.10" font-weight="bold" text-anchor="end">0.3</text>
<path d="M824.5 772.7L828.0 772.7" stroke="#8a8a8a" stroke-width="1.40" fill="none"/>
<text x="813.8" y="776.6" font-size="9.10" font-weight="bold" text-anchor="end">0.2</text>
<path d="M824.5 792.1L828.0 792.1" stroke="#8a8a8a" stroke-width="1.40" fill="none"/>
<text x="813.8" y="796.0" font-size="9.10" font-weight="bold" text-anchor="end">0.1</text>
<text x="813.8" y="815.4" font-size="9.10" font-weight="bold" text-anchor="end">0</text>
<text x="844.2" y="836.9" font-size="9.10" font-weight="bold" text-anchor="middle">0</text>
<text x="876.1" y="836.9" font-size="9.10" font-weight="bold" text-anchor="middle">9</text>
<text x="907.7" y="836.9" font-size="9.10" font-weight="bold" text-anchor="middle">14</text>
<text x="939.4" y="836.9" font-size="9.10" font-weight="bold" text-anchor="middle">19</text>
<text x="971.0" y="836.9" font-size="9.10" font-weight="bold" text-anchor="middle">24</text>
<text x="1003.0" y="836.9" font-size="9.10" font-weight="bold" text-anchor="middle">29</text>
<path d="M844.2 650.1L876.1 735.8L907.7 759.9L939.4 768.1L971.0 775.7L1003.0 781.1" stroke="#c2d93c" stroke-width="2.60" fill="none" stroke-linejoin="round"/>
<path d="M844.2 645.6L848.7 650.1L844.2 654.6L839.7 650.1Z" fill="#c2d93c"/>
<path d="M876.1 731.3L880.6 735.8L876.1 740.3L871.6 735.8Z" fill="#c2d93c"/>
<path d="M907.7 755.4L912.2 759.9L907.7 764.4L903.2 759.9Z" fill="#c2d93c"/>
<path d="M939.4 763.6L943.9 768.1L939.4 772.6L934.9 768.1Z" fill="#c2d93c"/>
<path d="M971.0 771.2L975.5 775.7L971.0 780.2L966.5 775.7Z" fill="#c2d93c"/>
<path d="M1003.0 776.6L1007.5 781.1L1003.0 785.6L998.5 781.1Z" fill="#c2d93c"/>
<text transform="translate(779.0 728.9) rotate(-90)" x="-59.8" y="4.9" font-size="13.5" font-weight="bold" textLength="119.6" lengthAdjust="spacingAndGlyphs" xml:space="preserve">Δ Abs λ 320 nm</text>
<text x="852.7" y="866.8" font-size="15.00" font-weight="bold" textLength="141.7" lengthAdjust="spacingAndGlyphs">rAlbumin (mg/ml)</text>
<path d="M1113.7 635.2L1113.7 809.0" stroke="#8a8a8a" stroke-width="2.00" fill="none"/>
<path d="M1113.0 808.3L1312.0 808.3" stroke="#8a8a8a" stroke-width="2.00" fill="none"/>
<text x="1099.1" y="639.3" font-size="9.10" font-weight="bold" text-anchor="end">0.12</text>
<text x="1099.1" y="682.6" font-size="9.10" font-weight="bold" text-anchor="end">0.1</text>
<text x="1099.1" y="725.9" font-size="9.10" font-weight="bold" text-anchor="end">0.08</text>
<text x="1099.1" y="769.1" font-size="9.10" font-weight="bold" text-anchor="end">0.06</text>
<text x="1099.1" y="812.4" font-size="9.10" font-weight="bold" text-anchor="end">0.04</text>
<text x="1113.7" y="832.8" font-size="9.10" font-weight="bold" text-anchor="middle">0</text>
<text x="1163.0" y="832.8" font-size="9.10" font-weight="bold" text-anchor="middle">5</text>
<text x="1212.7" y="832.8" font-size="9.10" font-weight="bold" text-anchor="middle">10</text>
<text x="1262.0" y="832.8" font-size="9.10" font-weight="bold" text-anchor="middle">15</text>
<text x="1311.4" y="832.8" font-size="9.10" font-weight="bold" text-anchor="middle">20</text>
<path d="M1113.7 735.8L1163.0 746.6L1212.7 752.3L1262.0 764.9L1311.4 769.7" stroke="#c2d93c" stroke-width="3.00" fill="none" stroke-linejoin="round"/>
<path d="M1113.7 731.3L1118.2 735.8L1113.7 740.3L1109.2 735.8Z" fill="#c2d93c"/>
<path d="M1163.0 742.1L1167.5 746.6L1163.0 751.1L1158.5 746.6Z" fill="#c2d93c"/>
<path d="M1212.7 747.8L1217.2 752.3L1212.7 756.8L1208.2 752.3Z" fill="#c2d93c"/>
<path d="M1262.0 760.4L1266.5 764.9L1262.0 769.4L1257.5 764.9Z" fill="#c2d93c"/>
<path d="M1311.4 765.2L1315.9 769.7L1311.4 774.2L1306.9 769.7Z" fill="#c2d93c"/>
<path d="M1113.7 690.9L1163.0 709.9L1212.7 717.8L1262.0 731.4L1311.4 749.1" stroke="#ae8a2d" stroke-width="3.00" fill="none" stroke-linejoin="round"/>
<rect x="1108.8" y="686.0" width="9.8" height="9.8" fill="#ae8a2d"/>
<rect x="1158.1" y="705.0" width="9.8" height="9.8" fill="#ae8a2d"/>
<rect x="1207.8" y="712.9" width="9.8" height="9.8" fill="#ae8a2d"/>
<rect x="1257.1" y="726.5" width="9.8" height="9.8" fill="#ae8a2d"/>
<rect x="1306.5" y="744.2" width="9.8" height="9.8" fill="#ae8a2d"/>
<path d="M1113.7 674.8L1163.0 694.1L1212.7 702.6L1262.0 719.1L1311.4 739.6" stroke="#231130" stroke-width="3.00" fill="none" stroke-linejoin="round"/>
<path d="M1113.7 669.6L1118.9 679.2L1108.5 679.2Z" fill="#231130"/>
<path d="M1163.0 688.9L1168.2 698.5L1157.8 698.5Z" fill="#231130"/>
<path d="M1212.7 697.4L1217.9 707.0L1207.5 707.0Z" fill="#231130"/>
<path d="M1262.0 713.9L1267.2 723.5L1256.8 723.5Z" fill="#231130"/>
<path d="M1311.4 734.4L1316.6 744.0L1306.2 744.0Z" fill="#231130"/>
<text transform="translate(1059.9 719.2) rotate(-90)" x="-62.1" y="4.9" font-size="13.5" font-weight="bold" textLength="124.3" lengthAdjust="spacingAndGlyphs" xml:space="preserve">Δ Abs λ  320 nm</text>
<text x="1142.2" y="864.0" font-size="15.00" font-weight="bold" textLength="141.4" lengthAdjust="spacingAndGlyphs">rAlbumin (mg/ml)</text>
<path d="M1343.0 687.4L1380.7 687.4" stroke="#c2d93c" stroke-width="2.60" fill="none"/>
<path d="M1361.8 684.2L1365.0 687.4L1361.8 690.6L1358.6 687.4Z" fill="#c2d93c"/>
<text x="1384.8" y="691.9" font-size="12.50" textLength="45.0" lengthAdjust="spacingAndGlyphs">T=2 wk</text>
<path d="M1343.0 704.5L1380.7 704.5" stroke="#ae8a2d" stroke-width="2.60" fill="none"/>
<rect x="1358.0" y="700.7" width="7.6" height="7.6" fill="#ae8a2d"/>
<text x="1384.8" y="709.0" font-size="12.50" textLength="45.0" lengthAdjust="spacingAndGlyphs">T=4 wk</text>
<path d="M1343.0 722.2L1380.7 722.2" stroke="#231130" stroke-width="2.60" fill="none"/>
<path d="M1361.8 718.2L1365.8 725.6L1357.8 725.6Z" fill="#231130"/>
<text x="1384.8" y="726.7" font-size="12.50" textLength="45.0" lengthAdjust="spacingAndGlyphs">T=5 wk</text>
<text x="912.5" y="978.9" font-weight="bold" textLength="35.7" lengthAdjust="spacingAndGlyphs">Fig.5.</text>
<path d="M956.7 1171.4L1010.4 1171.4L1041.8 1170.7L1064.1 1168.5L1088.8 1164.2L1145.9 1157.0L1210.6 1147.9L1258.2 1124.4L1275.8 1113.1" stroke="#c2d93c" stroke-width="2.40" fill="none" stroke-linejoin="round"/>
<rect x="952.5" y="1167.2" width="8.4" height="8.4" fill="#c2d93c"/>
<rect x="1006.2" y="1167.2" width="8.4" height="8.4" fill="#c2d93c"/>
<rect x="1037.6" y="1166.5" width="8.4" height="8.4" fill="#c2d93c"/>
<rect x="1059.9" y="1164.3" width="8.4" height="8.4" fill="#c2d93c"/>
<rect x="1084.6" y="1160.0" width="8.4" height="8.4" fill="#c2d93c"/>
<rect x="1141.7" y="1152.8" width="8.4" height="8.4" fill="#c2d93c"/>
<rect x="1206.4" y="1143.7" width="8.4" height="8.4" fill="#c2d93c"/>
<rect x="1254.0" y="1120.2" width="8.4" height="8.4" fill="#c2d93c"/>
<rect x="1271.6" y="1108.9" width="8.4" height="8.4" fill="#c2d93c"/>
<path d="M956.7 1167.8L1010.4 1162.5L1041.8 1159.2L1064.1 1156.3L1088.8 1152.2L1145.9 1142.4L1210.6 1123.4L1258.2 1086.7L1275.8 1069.9" stroke="#ae8a2d" stroke-width="2.40" fill="none" stroke-linejoin="round"/>
<path d="M956.7 1163.3L961.2 1171.6L952.2 1171.6Z" fill="#ae8a2d"/>
<path d="M1010.4 1158.0L1014.9 1166.3L1005.9 1166.3Z" fill="#ae8a2d"/>
<path d="M1041.8 1154.7L1046.3 1163.0L1037.3 1163.0Z" fill="#ae8a2d"/>
<path d="M1064.1 1151.8L1068.6 1160.1L1059.6 1160.1Z" fill="#ae8a2d"/>
<path d="M1088.8 1147.7L1093.3 1156.0L1084.3 1156.0Z" fill="#ae8a2d"/>
<path d="M1145.9 1137.9L1150.4 1146.2L1141.4 1146.2Z" fill="#ae8a2d"/>
<path d="M1210.6 1118.9L1215.1 1127.2L1206.1 1127.2Z" fill="#ae8a2d"/>
<path d="M1258.2 1082.2L1262.7 1090.5L1253.7 1090.5Z" fill="#ae8a2d"/>
<path d="M1275.8 1065.4L1280.3 1073.7L1271.3 1073.7Z" fill="#ae8a2d"/>
<path d="M956.7 1168.5L1010.4 1167.1L1041.8 1165.6L1064.1 1164.7L1088.8 1163.2L1145.9 1156.3L1210.6 1140.2L1258.2 1102.8L1275.8 1084.0" stroke="#231130" stroke-width="2.40" fill="none" stroke-linejoin="round"/>
<rect x="952.5" y="1164.3" width="8.4" height="8.4" fill="#231130"/>
<rect x="1006.2" y="1162.9" width="8.4" height="8.4" fill="#231130"/>
<rect x="1037.6" y="1161.4" width="8.4" height="8.4" fill="#231130"/>
<rect x="1059.9" y="1160.5" width="8.4" height="8.4" fill="#231130"/>
<rect x="1084.6" y="1159.0" width="8.4" height="8.4" fill="#231130"/>
<rect x="1141.7" y="1152.1" width="8.4" height="8.4" fill="#231130"/>
<rect x="1206.4" y="1136.0" width="8.4" height="8.4" fill="#231130"/>
<rect x="1254.0" y="1098.6" width="8.4" height="8.4" fill="#231130"/>
<rect x="1271.6" y="1079.8" width="8.4" height="8.4" fill="#231130"/>
<path d="M956.7 1162.5L1010.4 1148.4L1041.8 1139.5L1064.1 1132.5L1088.8 1123.4L1145.9 1098.2L1210.6 1066.8L1258.2 1032.4L1275.8 1021.2" stroke="#29a8e0" stroke-width="2.40" fill="none" stroke-linejoin="round"/>
<path d="M956.7 1158.7L960.5 1162.5L956.7 1166.3L952.9 1162.5Z" fill="#c9ad5a"/>
<path d="M956.7 1160.7L958.5 1162.5L956.7 1164.3L954.9 1162.5Z" fill="#4fb0dc"/>
<path d="M1010.4 1144.6L1014.2 1148.4L1010.4 1152.2L1006.6 1148.4Z" fill="#c9ad5a"/>
<path d="M1010.4 1146.6L1012.2 1148.4L1010.4 1150.2L1008.6 1148.4Z" fill="#4fb0dc"/>
<path d="M1041.8 1135.7L1045.6 1139.5L1041.8 1143.3L1038.0 1139.5Z" fill="#c9ad5a"/>
<path d="M1041.8 1137.7L1043.6 1139.5L1041.8 1141.3L1040.0 1139.5Z" fill="#4fb0dc"/>
<path d="M1064.1 1128.7L1067.9 1132.5L1064.1 1136.3L1060.3 1132.5Z" fill="#c9ad5a"/>
<path d="M1064.1 1130.7L1065.9 1132.5L1064.1 1134.3L1062.3 1132.5Z" fill="#4fb0dc"/>
<path d="M1088.8 1119.6L1092.6 1123.4L1088.8 1127.2L1085.0 1123.4Z" fill="#c9ad5a"/>
<path d="M1088.8 1121.6L1090.6 1123.4L1088.8 1125.2L1087.0 1123.4Z" fill="#4fb0dc"/>
<path d="M1145.9 1094.4L1149.7 1098.2L1145.9 1102.0L1142.1 1098.2Z" fill="#c9ad5a"/>
<path d="M1145.9 1096.4L1147.7 1098.2L1145.9 1100.0L1144.1 1098.2Z" fill="#4fb0dc"/>
<path d="M1210.6 1063.0L1214.4 1066.8L1210.6 1070.6L1206.8 1066.8Z" fill="#c9ad5a"/>
<path d="M1210.6 1065.0L1212.4 1066.8L1210.6 1068.6L1208.8 1066.8Z" fill="#4fb0dc"/>
<path d="M1258.2 1028.6L1262.0 1032.4L1258.2 1036.2L1254.4 1032.4Z" fill="#c9ad5a"/>
<path d="M1258.2 1030.6L1260.0 1032.4L1258.2 1034.2L1256.4 1032.4Z" fill="#4fb0dc"/>
<path d="M1275.8 1017.4L1279.6 1021.2L1275.8 1025.0L1272.0 1021.2Z" fill="#c9ad5a"/>
<path d="M1275.8 1019.4L1277.6 1021.2L1275.8 1023.0L1274.0 1021.2Z" fill="#4fb0dc"/>
<path d="M956.7 1168.5L1010.4 1166.6L1041.8 1137.8L1064.1 1121.0L1088.8 1104.9L1145.9 1080.9L1210.6 1048.3L1258.2 1019.2L1275.8 1009.2" stroke="#0f0b12" stroke-width="2.40" fill="none" stroke-linejoin="round"/>
<path d="M956.7 1164.1L961.1 1168.5L956.7 1172.9L952.3 1168.5Z" fill="#0f0b12"/>
<path d="M1010.4 1162.2L1014.8 1166.6L1010.4 1171.0L1006.0 1166.6Z" fill="#0f0b12"/>
<path d="M1041.8 1133.4L1046.2 1137.8L1041.8 1142.2L1037.4 1137.8Z" fill="#0f0b12"/>
<path d="M1064.1 1116.6L1068.5 1121.0L1064.1 1125.4L1059.7 1121.0Z" fill="#0f0b12"/>
<path d="M1088.8 1100.5L1093.2 1104.9L1088.8 1109.3L1084.4 1104.9Z" fill="#0f0b12"/>
<path d="M1145.9 1076.5L1150.3 1080.9L1145.9 1085.3L1141.5 1080.9Z" fill="#0f0b12"/>
<path d="M1210.6 1043.9L1215.0 1048.3L1210.6 1052.7L1206.2 1048.3Z" fill="#0f0b12"/>
<path d="M1258.2 1014.8L1262.6 1019.2L1258.2 1023.6L1253.8 1019.2Z" fill="#0f0b12"/>
<path d="M1275.8 1004.8L1280.2 1009.2L1275.8 1013.6L1271.4 1009.2Z" fill="#0f0b12"/>
<path d="M956.7 1160.4L1010.4 1143.8L1041.8 1136.8L1064.1 1129.9L1088.8 1121.0L1145.9 1098.2L1210.6 1076.6L1258.2 1042.5L1275.8 1030.5" stroke="#e6108a" stroke-width="2.40" fill="none" stroke-linejoin="round"/>
<circle cx="956.7" cy="1160.4" r="4.5" fill="#e6108a"/>
<circle cx="1010.4" cy="1143.8" r="4.5" fill="#e6108a"/>
<circle cx="1041.8" cy="1136.8" r="4.5" fill="#e6108a"/>
<circle cx="1064.1" cy="1129.9" r="4.5" fill="#e6108a"/>
<circle cx="1088.8" cy="1121.0" r="4.5" fill="#e6108a"/>
<circle cx="1145.9" cy="1098.2" r="4.5" fill="#e6108a"/>
<circle cx="1210.6" cy="1076.6" r="4.5" fill="#e6108a"/>
<circle cx="1258.2" cy="1042.5" r="4.5" fill="#e6108a"/>
<circle cx="1275.8" cy="1030.5" r="4.5" fill="#e6108a"/>
<path d="M903.0 1003.4L903.0 1172.1" stroke="#8a8a8a" stroke-width="1.80" fill="none"/>
<path d="M902.3 1171.4L1295.6 1171.4" stroke="#8a8a8a" stroke-width="1.80" fill="none"/>
<text x="887.5" y="1007.3" font-size="9.10" font-weight="bold" text-anchor="end">0.7</text>
<text x="887.5" y="1031.3" font-size="9.10" font-weight="bold" text-anchor="end">0.6</text>
<text x="887.5" y="1055.3" font-size="9.10" font-weight="bold" text-anchor="end">0.5</text>
<text x="887.5" y="1079.3" font-size="9.10" font-weight="bold" text-anchor="end">0.4</text>
<text x="887.5" y="1103.3" font-size="9.10" font-weight="bold" text-anchor="end">0.3</text>
<text x="887.5" y="1127.3" font-size="9.10" font-weight="bold" text-anchor="end">0.2</text>
<text x="887.5" y="1151.3" font-size="9.10" font-weight="bold" text-anchor="end">0.1</text>
<text x="887.5" y="1175.3" font-size="9.10" font-weight="bold" text-anchor="end">0</text>
<text x="903.0" y="1197.1" font-size="9.10" font-weight="bold" text-anchor="middle">1</text>
<text x="1081.4" y="1197.1" font-size="9.10" font-weight="bold" text-anchor="middle">10</text>
<text x="1259.8" y="1197.1" font-size="9.10" font-weight="bold" text-anchor="middle">100</text>
<text transform="translate(850.2 1087.2) rotate(-90)" x="-62.3" y="4.9" font-size="13.5" font-weight="bold" textLength="124.6" lengthAdjust="spacingAndGlyphs" xml:space="preserve">Δ Abs  λ 320 nm</text>
<text x="1021.0" y="1219.8" font-size="15.00" font-weight="bold" textLength="166.1" lengthAdjust="spacingAndGlyphs">Incubation time (hrs)</text>
<path d="M843.8 1242.8L882.7 1242.8" stroke="#29a8e0" stroke-width="2.10" fill="none"/>
<path d="M863.2 1239.6L866.4 1242.8L863.2 1246.0L860.0 1242.8Z" fill="#c9ad5a"/>
<path d="M863.2 1241.3L864.7 1242.8L863.2 1244.3L861.7 1242.8Z" fill="#4fb0dc"/>
<text x="886.5" y="1247.0" font-size="11.60" textLength="72.8" lengthAdjust="spacingAndGlyphs">No excipient</text>
<path d="M843.8 1261.5L882.7 1261.5" stroke="#0f0b12" stroke-width="2.10" fill="none"/>
<path d="M863.2 1258.3L866.5 1261.5L863.2 1264.7L860.0 1261.5Z" fill="#0f0b12"/>
<text x="886.5" y="1265.7" font-size="11.60" textLength="114.6" lengthAdjust="spacingAndGlyphs">Glycine (20mg/mL)</text>
<path d="M1020.0 1242.8L1058.6 1242.8" stroke="#c2d93c" stroke-width="2.10" fill="none"/>
<rect x="1036.3" y="1239.8" width="6.0" height="6.0" fill="#c2d93c"/>
<text x="1062.8" y="1247.0" font-size="11.60" textLength="124.3" lengthAdjust="spacingAndGlyphs">rAlbumin (15mg/mL)</text>
<path d="M1020.0 1261.5L1058.6 1261.5" stroke="#231130" stroke-width="2.10" fill="none"/>
<rect x="1036.3" y="1258.5" width="6.0" height="6.0" fill="#231130"/>
<text x="1062.8" y="1265.7" font-size="11.60" textLength="118.6" lengthAdjust="spacingAndGlyphs">Poly 80 (8.2mg/mL)</text>
<path d="M1195.9 1242.8L1234.5 1242.8" stroke="#ae8a2d" stroke-width="2.10" fill="none"/>
<path d="M1215.2 1239.6L1218.4 1245.5L1212.0 1245.5Z" fill="#ae8a2d"/>
<text x="1238.3" y="1247.0" font-size="11.60" textLength="126.9" lengthAdjust="spacingAndGlyphs">Poly 80 (0.82mg/mL)</text>
<path d="M1195.9 1261.5L1234.5 1261.5" stroke="#e6108a" stroke-width="2.10" fill="none"/>
<circle cx="1215.2" cy="1261.5" r="3.2" fill="#e6108a"/>
<text x="1238.3" y="1265.7" font-size="11.60" textLength="99.0" lengthAdjust="spacingAndGlyphs">PEG (1.0mg/mL)</text>
<text x="1487.5" y="393.1" font-weight="bold" fill="#e6098a" style="stroke:#e6098a" textLength="235.3" lengthAdjust="spacingAndGlyphs">rAlbumin protects against oxidation</text>
<text x="1485.3" y="423.8" textLength="59.2" lengthAdjust="spacingAndGlyphs"><tspan font-style="italic">Reagents</tspan>:</text>
<text x="1611.5" y="423.8" textLength="471.7" lengthAdjust="spacingAndGlyphs">rAlbumin (Novozymes Biopharma UK Ltd); merozoite surface protein 2 (MSP-2)</text>
<text x="1611.5" y="439.6" textLength="447.4" lengthAdjust="spacingAndGlyphs">malarial antigen vaccine protein (Novozymes Biopharma AU Ltd); hydrogen</text>
<text x="1485.3" y="454.8" textLength="55.7" lengthAdjust="spacingAndGlyphs">peroxide;</text>
<text x="1611.5" y="454.8" textLength="264.8" lengthAdjust="spacingAndGlyphs">catalase; L-methionine; citrate buffer pH6.0.</text>
<text x="1485.3" y="483.9" textLength="48.1" lengthAdjust="spacingAndGlyphs"><tspan font-style="italic">Method</tspan>:</text>
<text x="1611.5" y="483.9" textLength="410.0" lengthAdjust="spacingAndGlyphs">Citrate buffer was added to a microcentrifuge tube followed by either</text>
<text x="1611.5" y="499.7" textLength="476.5" lengthAdjust="spacingAndGlyphs" xml:space="preserve">rAlbumin (0 —  15.0 mg/ml) or L-methionine (0—0.3 mg/ml) and either 3D7-6H</text>
<text x="1485.3" y="514.6" textLength="92.4" lengthAdjust="spacingAndGlyphs">or FC27-6H (40</text>
<text x="1611.5" y="514.6" textLength="480.3" lengthAdjust="spacingAndGlyphs">µg/ml). Hydrogen peroxide, to a final concentration of 0.0005%, was then added</text>
<text x="1485.3" y="530.4" textLength="29.1" lengthAdjust="spacingAndGlyphs">to all</text>
<text x="1611.5" y="530.4" textLength="460.6" lengthAdjust="spacingAndGlyphs">samples as an oxidizing agent. All samples were incubated for 8 hrs at 37 °C.</text>
<text x="1611.5" y="545.6" textLength="469.5" lengthAdjust="spacingAndGlyphs">Reaction was terminated using catalase and then analyzed using reverse phase</text>
<text x="1485.3" y="561.4" textLength="34.2" lengthAdjust="spacingAndGlyphs">HPLC.</text>
<text x="1611.5" y="561.4" textLength="481.2" lengthAdjust="spacingAndGlyphs">Percentage of oxidized MSP2 species was calculated against oxidized MSP2 in the</text>
<text x="1611.5" y="576.3" textLength="124.7" lengthAdjust="spacingAndGlyphs">absence of rAlbumin.</text>
<text x="1482.1" y="922.6" font-style="italic" textLength="610.6" lengthAdjust="spacingAndGlyphs">Percent oxidized FC27-6H or 3D7-6H in the presence of increasing concentrations of rAlbumin (0—15.0</text>
<text x="1482.1" y="937.5" font-style="italic" textLength="330.6" lengthAdjust="spacingAndGlyphs" xml:space="preserve">mg/ml) <tspan font-weight="bold">Fig .6.</tspan> or L-methionine  (0—0.3 mg/ml) <tspan font-weight="bold">Fig .7.</tspan></text>
<text x="1487.5" y="963.5" font-size="11.5" fill="#e6098a" style="stroke:none" text-anchor="middle">❖</text>
<text x="1498.6" y="963.4" textLength="577.3" lengthAdjust="spacingAndGlyphs">rAlbumin acts as an effective antioxidant following exposure to hydrogen peroxide compared with</text>
<text x="1498.6" y="978.6" textLength="321.4" lengthAdjust="spacingAndGlyphs">L-methionine, a commonly used antioxidant excipient.</text>
<text x="1480.6" y="1036.5" font-size="18.70" font-style="italic" fill="#b9d532" style="stroke:#b9d532;stroke-width:0.1px" textLength="603.3" lengthAdjust="spacingAndGlyphs" xml:space="preserve">rAlbumin acts as a multipurpose excipient  reducing the total</text>
<text x="1480.6" y="1060.2" font-size="18.70" font-style="italic" fill="#b9d532" style="stroke:#b9d532;stroke-width:0.1px" textLength="562.4" lengthAdjust="spacingAndGlyphs">number of excipients required in a liquid formulation and</text>
<text x="1480.6" y="1083.0" font-size="18.70" font-style="italic" fill="#b9d532" style="stroke:#b9d532;stroke-width:0.1px" textLength="357.4" lengthAdjust="spacingAndGlyphs">simplifying the formulation strategy.</text>
<rect x="1475.2" y="1123" width="633" height="231.2" fill="#c3e4f0" stroke="#2a1230" stroke-width="2"/>
<text x="1480.6" y="1155.1" font-size="13.90" textLength="499.8" lengthAdjust="spacingAndGlyphs">Novozymes’ Recombinant Human Albumin has the following advantages:</text>
<text x="1539.1" y="1181.0" font-size="9.5" fill="#7a8a3a" style="stroke:none" text-anchor="middle">❖</text>
<text x="1556.5" y="1181.0" font-size="13.90" textLength="79.4" lengthAdjust="spacingAndGlyphs">Animal-free</text>
<text x="1539.1" y="1211.1" font-size="9.5" fill="#7a8a3a" style="stroke:none" text-anchor="middle">❖</text>
<text x="1556.5" y="1211.1" font-size="13.90" textLength="128.7" lengthAdjust="spacingAndGlyphs">cGMP manufacture</text>
<text x="1539.1" y="1241.1" font-size="9.5" fill="#7a8a3a" style="stroke:none" text-anchor="middle">❖</text>
<text x="1556.5" y="1241.1" font-size="13.90" textLength="325.8" lengthAdjust="spacingAndGlyphs">Batch-to-batch consistency; reduced lot testing</text>
<text x="1539.1" y="1271.2" font-size="9.5" fill="#7a8a3a" style="stroke:none" text-anchor="middle">❖</text>
<text x="1556.5" y="1271.2" font-size="13.90" textLength="170.2" lengthAdjust="spacingAndGlyphs">Exceptional purity profile</text>
<text x="1539.1" y="1301.9" font-size="9.5" fill="#7a8a3a" style="stroke:none" text-anchor="middle">❖</text>
<text x="1556.5" y="1301.9" font-size="13.90" textLength="164.8" lengthAdjust="spacingAndGlyphs">5 year stability at 2-8 C</text>
<text x="1539.1" y="1331.9" font-size="9.5" fill="#7a8a3a" style="stroke:none" text-anchor="middle">❖</text>
<text x="1556.5" y="1331.9" font-size="13.90" textLength="168.3" lengthAdjust="spacingAndGlyphs">Convenient liquid format</text>
<text x="1557.4" y="609.0" font-weight="bold" textLength="36.4" lengthAdjust="spacingAndGlyphs">Fig.6.</text>
<text x="1889.3" y="610.9" font-weight="bold" textLength="36.4" lengthAdjust="spacingAndGlyphs">Fig.7.</text>
<rect x="1558.1" y="663.0" width="13.9" height="160.5" fill="#c2d93c"/>
<rect x="1572.0" y="663.8" width="13.7" height="159.8" fill="#ae8a2d"/>
<rect x="1604.6" y="718.5" width="13.9" height="105.0" fill="#c2d93c"/>
<rect x="1618.5" y="678.8" width="13.7" height="144.7" fill="#ae8a2d"/>
<rect x="1651.4" y="736.4" width="13.9" height="87.1" fill="#c2d93c"/>
<rect x="1665.3" y="699.5" width="13.7" height="124.0" fill="#ae8a2d"/>
<rect x="1698.2" y="757.0" width="13.9" height="66.5" fill="#c2d93c"/>
<rect x="1712.1" y="712.8" width="13.7" height="110.7" fill="#ae8a2d"/>
<path d="M1548.0 631.8L1548.0 824.2" stroke="#8a8a8a" stroke-width="2.00" fill="none"/>
<path d="M1544.5 823.5L1735.9 823.5" stroke="#8a8a8a" stroke-width="2.00" fill="none"/>
<path d="M1544.5 631.8L1548.0 631.8" stroke="#8a8a8a" stroke-width="1.40" fill="none"/>
<text x="1533.7" y="635.7" font-size="9.10" font-weight="bold" text-anchor="end">120</text>
<path d="M1544.5 663.8L1548.0 663.8" stroke="#8a8a8a" stroke-width="1.40" fill="none"/>
<text x="1533.7" y="667.7" font-size="9.10" font-weight="bold" text-anchor="end">100</text>
<path d="M1544.5 695.7L1548.0 695.7" stroke="#8a8a8a" stroke-width="1.40" fill="none"/>
<text x="1533.7" y="699.6" font-size="9.10" font-weight="bold" text-anchor="end">80</text>
<path d="M1544.5 727.6L1548.0 727.6" stroke="#8a8a8a" stroke-width="1.40" fill="none"/>
<text x="1533.7" y="731.6" font-size="9.10" font-weight="bold" text-anchor="end">60</text>
<path d="M1544.5 759.6L1548.0 759.6" stroke="#8a8a8a" stroke-width="1.40" fill="none"/>
<text x="1533.7" y="763.5" font-size="9.10" font-weight="bold" text-anchor="end">40</text>
<path d="M1544.5 791.5L1548.0 791.5" stroke="#8a8a8a" stroke-width="1.40" fill="none"/>
<text x="1533.7" y="795.5" font-size="9.10" font-weight="bold" text-anchor="end">20</text>
<text x="1533.7" y="827.4" font-size="9.10" font-weight="bold" text-anchor="end">0</text>
<text x="1572.0" y="848.9" font-size="9.10" font-weight="bold" text-anchor="middle">0</text>
<text x="1618.8" y="848.9" font-size="9.10" font-weight="bold" text-anchor="middle">5</text>
<text x="1665.3" y="848.9" font-size="9.10" font-weight="bold" text-anchor="middle">10</text>
<text x="1712.1" y="848.9" font-size="9.10" font-weight="bold" text-anchor="middle">15</text>
<text transform="translate(1486.3 727.3) rotate(-90)" x="-107.9" y="5.2" font-size="14.5" font-weight="bold" textLength="215.8" lengthAdjust="spacingAndGlyphs" xml:space="preserve">Oxidized MSP-2 protein (%)</text>
<text x="1571.4" y="878.5" font-size="15.00" font-weight="bold" textLength="141.7" lengthAdjust="spacingAndGlyphs">rAlbumin (mg/ml)</text>
<rect x="1759.9" y="698.4" width="8.5" height="8.5" fill="#c2d93c"/>
<text x="1770.7" y="707.1" font-size="12.50" textLength="23.8" lengthAdjust="spacingAndGlyphs">3D7</text>
<rect x="1759.9" y="726.3" width="8.5" height="8.5" fill="#ae8a2d"/>
<text x="1770.7" y="735.0" font-size="12.50" textLength="29.8" lengthAdjust="spacingAndGlyphs">FC27</text>
<rect x="1898.5" y="652.6" width="17.4" height="171.5" fill="#ae8a2d"/>
<rect x="1956.4" y="668.7" width="17.4" height="155.4" fill="#ae8a2d"/>
<rect x="2014.3" y="691.2" width="17.4" height="132.9" fill="#ae8a2d"/>
<rect x="2072.1" y="705.4" width="17.4" height="118.7" fill="#ae8a2d"/>
<path d="M1878.9 635.9L1878.9 824.8" stroke="#8a8a8a" stroke-width="2.00" fill="none"/>
<path d="M1875.4 824.1L2110.1 824.1" stroke="#8a8a8a" stroke-width="2.00" fill="none"/>
<text x="1863.4" y="828.0" font-size="9.10" font-weight="bold" text-anchor="end">0</text>
<path d="M1875.4 789.8L1878.9 789.8" stroke="#8a8a8a" stroke-width="1.40" fill="none"/>
<text x="1863.4" y="793.7" font-size="9.10" font-weight="bold" text-anchor="end">20</text>
<path d="M1875.4 755.5L1878.9 755.5" stroke="#8a8a8a" stroke-width="1.40" fill="none"/>
<text x="1863.4" y="759.4" font-size="9.10" font-weight="bold" text-anchor="end">40</text>
<path d="M1875.4 721.2L1878.9 721.2" stroke="#8a8a8a" stroke-width="1.40" fill="none"/>
<text x="1863.4" y="725.1" font-size="9.10" font-weight="bold" text-anchor="end">60</text>
<path d="M1875.4 686.9L1878.9 686.9" stroke="#8a8a8a" stroke-width="1.40" fill="none"/>
<text x="1863.4" y="690.8" font-size="9.10" font-weight="bold" text-anchor="end">80</text>
<path d="M1875.4 652.6L1878.9 652.6" stroke="#8a8a8a" stroke-width="1.40" fill="none"/>
<text x="1863.4" y="656.5" font-size="9.10" font-weight="bold" text-anchor="end">100</text>
<text x="1907.0" y="848.9" font-size="9.10" font-weight="bold" text-anchor="middle">0</text>
<text x="1964.9" y="848.9" font-size="9.10" font-weight="bold" text-anchor="middle">0.1</text>
<text x="2022.8" y="848.9" font-size="9.10" font-weight="bold" text-anchor="middle">0.2</text>
<text x="2080.7" y="848.9" font-size="9.10" font-weight="bold" text-anchor="middle">0.3</text>
<text transform="translate(1829.5 736.5) rotate(-90)" x="-77.5" y="5.2" font-size="14.5" font-weight="bold" textLength="155.0" lengthAdjust="spacingAndGlyphs" xml:space="preserve">%  Oxidized 3D7-6H</text>
<text x="1908.0" y="879.5" font-size="15.00" font-weight="bold" textLength="177.8" lengthAdjust="spacingAndGlyphs">L- methionine (mg/ml)</text>
<rect x="66.3" y="1384" width="2079.6" height="158" fill="#e6098a"/>
<text x="88.7" y="1426.6" font-size="11.30" textLength="142.2" lengthAdjust="spacingAndGlyphs">**Corresponding author</text>
<text x="88.7" y="1440.5" font-size="11.30" textLength="180.0" lengthAdjust="spacingAndGlyphs">Email: <tspan fill="#9fd6f6" style="stroke:none" text-decoration="underline">PHUT@novozymes.com</tspan></text>
<text x="88.7" y="1454.4" font-size="11.30" textLength="238.6" lengthAdjust="spacingAndGlyphs" xml:space="preserve">Web:   <tspan fill="#9fd6f6" style="stroke:none" text-decoration="underline">www.biopharma.novozymes.com</tspan></text>
<text x="88.7" y="1482.2" font-size="11.30" textLength="374.3" lengthAdjust="spacingAndGlyphs"><tspan font-size="6.5" font-style="italic" dy="-3.5">#</tspan><tspan dy="3.5"> Novozymes Biopharma AU Ltd, Novozymes Biopharma UK Ltd</tspan></text>
<text x="88.7" y="1496.2" font-size="11.30" textLength="556.7" lengthAdjust="spacingAndGlyphs">*Meets National Formulary (NF) standards as published by United States Pharmacopeia (USP)</text>
<text x="88.7" y="1510.1" font-size="11.30" textLength="1766.4" lengthAdjust="spacingAndGlyphs">Novozymes manufactures and distributes two recombinant albumins, <tspan fill="#e2d957" style="stroke:none">Recombumin<tspan font-size="7.5" dy="-2">®</tspan></tspan><tspan dy="2"> and </tspan><tspan fill="#e2d957" style="stroke:none">albucult<tspan font-size="7.5" dy="-2">®</tspan></tspan><tspan dy="2"> , suitable for drug formulation. Recombumin</tspan><tspan font-size="7.5" dy="-2">®</tspan><tspan dy="2"> and albucult</tspan><tspan font-size="7.5" dy="-2">®</tspan><tspan dy="2"> are registered trademarks of Novozymes. Novozymes is a registered trademark of Novozymes A/S. For more information visit our website.</tspan></text>
<text x="1917.9" y="1483.1" font-size="27.00" fill="#fff" style="stroke:#fff;stroke-width:0px" font-family='"Liberation Sans", sans-serif' textLength="117.6" lengthAdjust="spacingAndGlyphs">novozymes</text>
<text x="2036.2" y="1471.5" font-size="4.50" fill="#fff" style="stroke:#fff" font-family='"Liberation Sans", sans-serif'>®</text>
<text x="1993.4" y="1500.7" font-size="11.30" fill="#fff" style="stroke:#fff;stroke-width:0px" font-family='"Liberation Sans", sans-serif' textLength="97.9" lengthAdjust="spacingAndGlyphs" fill-opacity=".92">Rethink Tomorrow.</text>
<path d="M2074.0 1473.6 C2075.0 1465.7 2069.0 1459.7 2062.5 1452.7 C2056.1 1445.8 2051.1 1439.8 2050.3 1433.9 C2049.9 1429.4 2051.6 1427.9 2055.1 1427.9 L2070.5 1427.9 C2074.5 1427.9 2075.7 1429.9 2075.0 1434.4 C2074.0 1440.8 2069.0 1446.8 2062.5 1452.7 C2056.1 1458.7 2047.1 1463.7 2041.2 1464.2 " fill="none" stroke="#fff" stroke-width="1.70" stroke-linecap="round" opacity="1.00"/>
<path d="M2062.5 1452.7 C2071.0 1446.8 2078.9 1443.3 2085.9 1442.3 C2089.9 1441.8 2091.1 1443.3 2091.1 1446.8 L2091.1 1461.7 C2091.1 1465.2 2089.4 1466.7 2085.9 1465.9 C2077.9 1464.2 2070.0 1459.7 2062.5 1452.7 " fill="none" stroke="#fff" stroke-width="1.70" stroke-linecap="round" opacity="1.00"/>
<path d="M2041.2 1464.2 C2037.2 1464.5 2034.7 1462.7 2035.7 1460.2 " fill="none" stroke="#fff" stroke-width="1.20" stroke-linecap="round" opacity="0.80"/>
<path d="M2062.5 1452.7 C2055.1 1445.8 2047.1 1441.8 2039.2 1440.8 C2037.2 1440.6 2035.7 1441.0 2034.7 1441.8 " fill="none" stroke="#fff" stroke-width="1.00" stroke-linecap="round" opacity="0.55"/>
<path d="M2062.5 1452.7 C2056.1 1459.7 2051.6 1466.7 2051.1 1472.6 C2050.9 1475.6 2052.1 1477.6 2054.1 1478.6 " fill="none" stroke="#fff" stroke-width="1.00" stroke-linecap="round" opacity="0.55"/>
<path d="M2074.0 1473.6 C2073.8 1476.1 2072.5 1477.6 2070.5 1478.4 " fill="none" stroke="#fff" stroke-width="1.10" stroke-linecap="round" opacity="0.75"/>
</svg></body></html>
